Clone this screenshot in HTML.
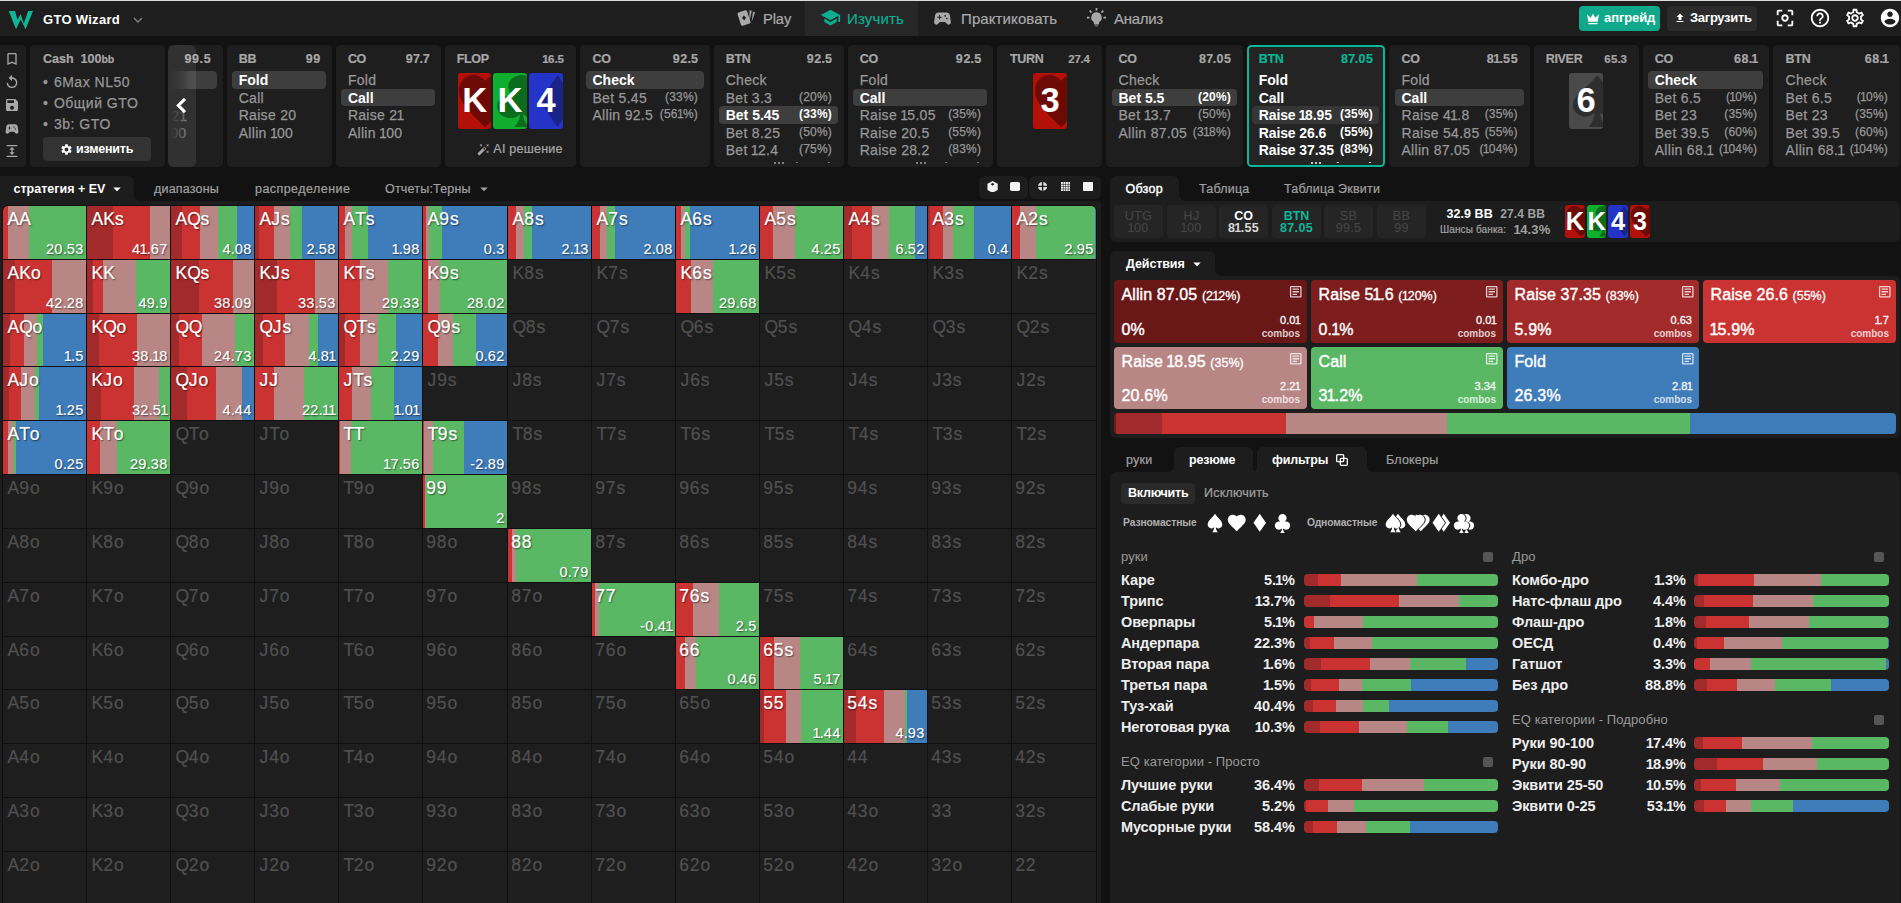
<!DOCTYPE html>
<html lang="ru"><head><meta charset="utf-8"><title>GTO Wizard</title>
<style>
*{box-sizing:border-box;margin:0;padding:0}
html,body{width:1901px;height:903px;overflow:hidden;background:#121212;font-family:"Liberation Sans",sans-serif;color:#fff}
.a{position:absolute}
.o{font-style:normal;margin:0 -.07em}
.sc .hr .o{margin:0 -.08em}
.sc .hr .v{font-style:normal;margin:0 -.04em}
.t{white-space:nowrap}
#root{position:relative;width:1901px;height:903px;overflow:hidden}
.cell{position:absolute;width:83px;height:53px;overflow:hidden;background:#1e1e1e}
.cell>i{position:absolute;top:0;bottom:0}
.cell b{position:absolute;left:4.5px;top:2px;font-weight:400;font-size:17.5px;line-height:22px;color:#505050;letter-spacing:.1px;-webkit-text-stroke:.2px currentColor}
.cell s{text-decoration:none}
.cell .w{letter-spacing:.9px}
.cell .z{margin-left:-1.3px}
.cell .x{letter-spacing:.8px}
.cell .y{letter-spacing:-.35px}
.cell.on b{color:#fff;text-shadow:1px 1px 1.5px rgba(0,0,0,.55)}
.cell u{position:absolute;right:2.6px;bottom:1px;text-decoration:none;font-size:14.5px;line-height:18px;color:#fff;text-shadow:1px 1px 1.5px rgba(0,0,0,.55);letter-spacing:.2px;-webkit-text-stroke:.12px currentColor}
.sc{position:absolute;top:45px;height:122px;background:#1e1e1e;border-radius:4.5px;overflow:hidden}
.sc .hl{position:absolute;left:11.7px;top:7px;font-weight:700;font-size:12.5px;line-height:14px;color:#a6a6a6;letter-spacing:-.3px}
.sc .hr{position:absolute;right:11.4px;top:7px;font-weight:700;font-size:12.5px;line-height:14px;color:#a6a6a6;letter-spacing:.65px}
.sc .r{position:absolute;left:5px;right:6px;height:17.6px;border-radius:4px;font-size:14px;line-height:18px;color:#979797;white-space:nowrap;letter-spacing:.3px;-webkit-text-stroke:.25px currentColor}
.sc .r>span{position:absolute;left:6.7px;top:0}
.sc .r em{position:absolute;right:6px;top:-1px;font-style:normal;font-size:12px;letter-spacing:.2px}
.sc .r.on{background:#3e3e3e;color:#fff;font-weight:700;letter-spacing:0;-webkit-text-stroke:0}
.sc .hl,.sc .hr{-webkit-text-stroke:.2px currentColor}
.sc.act{border:2px solid #06b796;background:#242424;border-radius:4.5px}
.sc.act .hl,.sc.act .hr{color:#08b595}
.sc.act .r{color:#fff;font-weight:700;letter-spacing:-.1px;-webkit-text-stroke:0}
.sc.act .r.on{background:#363636}
.pc{position:absolute;border-radius:4px;overflow:hidden}
.pc span{position:absolute;left:0;right:0;text-align:center;color:#fff;font-weight:700}
.ab{position:absolute;width:192.8px;border-radius:4px;overflow:hidden}
.ab .n{position:absolute;left:7.5px;top:6px;font-size:16px;line-height:18px;white-space:nowrap;letter-spacing:.1px;-webkit-text-stroke:.4px currentColor}
.ab .n small{font-size:12.5px;-webkit-text-stroke:.3px currentColor;letter-spacing:0}
.ab .f{position:absolute;left:7.5px;bottom:4px;font-size:16px;line-height:18px;letter-spacing:.2px;-webkit-text-stroke:.4px currentColor}
.ab .c{position:absolute;right:7px;bottom:3px;font-size:11px;line-height:12.5px;text-align:right;color:#f4f4f4;-webkit-text-stroke:.35px currentColor}
.ab .c s{text-decoration:none;display:block;font-weight:700;color:rgba(255,255,255,.78);font-size:10px;-webkit-text-stroke:0;line-height:12px;margin-top:1.2px}
.bar{position:absolute;height:12px;border-radius:4px;overflow:hidden;width:194px}
.bar i{position:absolute;top:0;bottom:0}
.hn{position:absolute;font-size:14.5px;line-height:18px;font-weight:700;color:#eee;white-space:nowrap;letter-spacing:-.1px}
.hp{position:absolute;font-size:14.5px;line-height:18px;font-weight:700;color:#eee;white-space:nowrap;text-align:right}
.hh{position:absolute;font-size:13px;line-height:16px;color:#9a9a9a;white-space:nowrap;letter-spacing:.1px}
.pos{position:absolute;top:205px;width:49px;height:33px;border-radius:4px;background:#252525;text-align:center;font-weight:700;font-size:12.5px;line-height:12px;color:#3c3c3c;padding-top:5px}
</style></head><body><div id="root">
<div class="a" style="left:0px;top:0px;width:1901px;height:36px;background:#1e1e1e;border-radius:0px;"></div><div class="a" style="left:0px;top:0px;width:1901px;height:1px;background:#dcdcdc;border-radius:0px;"></div><svg class="a" style="left:0;top:0" width="40" height="36" viewBox="0 0 40 36"><path fill="#0fb597" d="M8.800 10.900h6.200l2.400 8.800 3.200-5.600 3.200 9.400 4.400-12.600H33L25.600 29.200 20.600 19.600 16 29.200z"/></svg><div class="a t" style="left:43px;top:10px;font-size:13px;line-height:20px;color:#fff;font-weight:700;letter-spacing:.3px">GTO Wizard</div><svg class="a" style="left:129px;top:10.5px;" width="18" height="18" viewBox="0 0 24 24"><path fill="#7c7c7c" d="M16.59 8.59L12 13.17 7.41 8.59 6 10l6 6 6-6z"/></svg><div class="a" style="left:805px;top:1px;width:113px;height:35px;background:#272727;border-radius:0px;"></div><svg class="a" style="left:736.500px;top:7px" width="22" height="20" viewBox="0 0 22 20"><g fill="#a8a8a8"><rect x="2" y="4" width="10" height="14" rx="1.500" transform="rotate(-18 7 11)"/><path d="M12.500 3.200l2.200.5-2.400 11.500zM16 4.600l2.100.9-3.500 9.500z"/></g><path fill="#1e1e1e" d="M6.800 8.300l2.200 2.300-1.700 2.800-2.200-2.300z"/></svg><div class="a t" style="left:763px;top:9px;font-size:14.7px;line-height:20px;color:#a8a8a8;font-weight:400;letter-spacing:-.1px;-webkit-text-stroke:.22px currentColor">Play</div><svg class="a" style="left:819.5px;top:7px;" width="21" height="21" viewBox="0 0 24 24"><path fill="#0cae90" d="M5 13.18v4L12 21l7-3.82v-4L12 17l-7-3.82zM12 3L1 9l11 6 9-4.91V17h2V9L12 3z"/></svg><div class="a t" style="left:847px;top:9px;font-size:15px;line-height:20px;color:#0cae90;font-weight:400;letter-spacing:.15px;-webkit-text-stroke:.22px currentColor">Изучить</div><svg class="a" style="left:932px;top:8px;" width="21" height="21" viewBox="0 0 24 24"><path fill="#a8a8a8" d="M21.58 16.09l-1.09-7.66C20.21 6.46 18.52 5 16.53 5H7.47C5.48 5 3.79 6.46 3.51 8.43l-1.09 7.66C2.2 17.63 3.39 19 4.94 19c.68 0 1.32-.27 1.8-.75L9 16h6l2.25 2.25c.48.48 1.13.75 1.8.75 1.56 0 2.75-1.37 2.53-2.91zM11 11H9v2H8v-2H6v-1h2V8h1v2h2v1zm4-1c-.55 0-1-.45-1-1s.45-1 1-1 1 .45 1 1-.45 1-1 1zm2 3c-.55 0-1-.45-1-1s.45-1 1-1 1 .45 1 1-.45 1-1 1z"/></svg><div class="a t" style="left:961px;top:9px;font-size:15px;line-height:20px;color:#a8a8a8;font-weight:400;letter-spacing:.1px;-webkit-text-stroke:.22px currentColor">Практиковать</div><svg class="a" style="left:1086px;top:7px;" width="21" height="21" viewBox="0 0 24 24"><path fill="#a8a8a8" d="M12 6a6 6 0 0 0-3 11.2V19a1 1 0 0 0 1 1h4a1 1 0 0 0 1-1v-1.8A6 6 0 0 0 12 6zM10 21h4a1 1 0 0 1-1 1h-2a1 1 0 0 1-1-1zM11 1h2v3h-2zM1 11h3v2H1zM20 11h3v2h-3zM3.5 4.9l1.4-1.4 2.1 2.1-1.4 1.4zM17 5.6l2.1-2.1 1.4 1.4-2.1 2.1z"/></svg><div class="a t" style="left:1114px;top:9px;font-size:15px;line-height:20px;color:#a8a8a8;font-weight:400;letter-spacing:-.3px;-webkit-text-stroke:.22px currentColor">Анализ</div><div class="a" style="left:1579px;top:6px;width:81px;height:25px;background:#0fa88b;border-radius:4px;"></div><svg class="a" style="left:1584.5px;top:10.5px;" width="16" height="16" viewBox="0 0 24 24"><path fill="#fff" d="M5 16L3 5l5.5 5L12 4l3.5 6L21 5l-2 11H5zm14 3c0 .6-.4 1-1 1H6c-.6 0-1-.4-1-1v-1h14v1z"/></svg><div class="a t" style="left:1604px;top:9px;font-size:13px;line-height:18px;color:#fff;font-weight:700;letter-spacing:-.1px">апгрейд</div><div class="a" style="left:1667px;top:6px;width:90px;height:25px;background:#2b2b2b;border-radius:4px;"></div><svg class="a" style="left:1674px;top:12px;" width="12" height="12" viewBox="0 0 24 24"><path fill="#fff" d="M9 16h6v-6h4l-7-7-7 7h4zm-4 2h14v2H5z"/></svg><div class="a t" style="left:1690px;top:9px;font-size:13px;line-height:18px;color:#fff;font-weight:700;letter-spacing:-.3px">Загрузить</div><svg class="a" style="left:1774px;top:7px;" width="22" height="22" viewBox="0 0 24 24"><path fill="#fff" d="M5 15H3v4c0 1.1.9 2 2 2h4v-2H5v-4zM5 5h4V3H5c-1.1 0-2 .9-2 2v4h2V5zm14-2h-4v2h4v4h2V5c0-1.1-.9-2-2-2zm0 16h-4v2h4c1.1 0 2-.9 2-2v-4h-2v4zM12 8c-2.21 0-4 1.79-4 4s1.79 4 4 4 4-1.79 4-4-1.79-4-4-4zm0 6c-1.1 0-2-.9-2-2s.9-2 2-2 2 .9 2 2-.9 2-2 2z"/></svg><svg class="a" style="left:1809px;top:7px;" width="22" height="22" viewBox="0 0 24 24"><path fill="#fff" d="M11 18h2v-2h-2v2zm1-16C6.48 2 2 6.48 2 12s4.48 10 10 10 10-4.48 10-10S17.52 2 12 2zm0 18c-4.41 0-8-3.59-8-8s3.59-8 8-8 8 3.59 8 8-3.59 8-8 8zm0-14c-2.21 0-4 1.79-4 4h2c0-1.1.9-2 2-2s2 .9 2 2c0 2-3 1.75-3 5h2c0-2.25 3-2.5 3-5 0-2.21-1.79-4-4-4z"/></svg><svg class="a" style="left:1844px;top:7px;" width="22" height="22" viewBox="0 0 24 24"><path fill="#fff" d="M19.43 12.98c.04-.32.07-.64.07-.98 0-.34-.03-.66-.07-.98l2.11-1.65c.19-.15.24-.42.12-.64l-2-3.46c-.09-.16-.26-.25-.44-.25-.06 0-.12.01-.17.03l-2.49 1c-.52-.4-1.08-.73-1.69-.98l-.38-2.65C14.46 2.18 14.25 2 14 2h-4c-.25 0-.46.18-.49.42l-.38 2.65c-.61.25-1.17.59-1.69.98l-2.49-1c-.06-.02-.12-.03-.18-.03-.17 0-.34.09-.43.25l-2 3.46c-.13.22-.07.49.12.64l2.11 1.65c-.04.32-.07.65-.07.98 0 .33.03.66.07.98l-2.11 1.65c-.19.15-.24.42-.12.64l2 3.46c.09.16.26.25.44.25.06 0 .12-.01.17-.03l2.49-1c.52.4 1.08.73 1.69.98l.38 2.65c.03.24.24.42.49.42h4c.25 0 .46-.18.49-.42l.38-2.65c.61-.25 1.17-.59 1.69-.98l2.49 1c.06.02.12.03.18.03.17 0 .34-.09.43-.25l2-3.46c.12-.22.07-.49-.12-.64l-2.11-1.65zm-1.98-1.71c.04.31.05.52.05.73 0 .21-.02.43-.05.73l-.14 1.13.89.7 1.08.84-.7 1.21-1.27-.51-1.04-.42-.9.68c-.43.32-.84.56-1.25.73l-1.06.43-.16 1.13-.2 1.35h-1.4l-.19-1.35-.16-1.13-1.06-.43c-.43-.18-.83-.41-1.23-.71l-.91-.7-1.06.43-1.27.51-.7-1.21 1.08-.84.89-.7-.14-1.13c-.03-.31-.05-.54-.05-.74s.02-.43.05-.73l.14-1.13-.89-.7-1.08-.84.7-1.21 1.27.51 1.04.42.9-.68c.43-.32.84-.56 1.25-.73l1.06-.43.16-1.13.2-1.35h1.39l.19 1.35.16 1.13 1.06.43c.43.18.83.41 1.23.71l.91.7 1.06-.43 1.27-.51.7 1.21-1.07.85-.89.7.14 1.13zM12 8c-2.21 0-4 1.79-4 4s1.79 4 4 4 4-1.79 4-4-1.79-4-4-4zm0 6c-1.1 0-2-.9-2-2s.9-2 2-2 2 .9 2 2-.9 2-2 2z"/></svg><svg class="a" style="left:1879px;top:7px;" width="22" height="22" viewBox="0 0 24 24"><path fill="#fff" d="M12 2C6.48 2 2 6.48 2 12s4.48 10 10 10 10-4.48 10-10S17.52 2 12 2zm0 3c1.66 0 3 1.34 3 3s-1.34 3-3 3-3-1.34-3-3 1.34-3 3-3zm0 14.2c-2.5 0-4.71-1.28-6-3.22.03-1.99 4-3.08 6-3.08 1.99 0 5.97 1.09 6 3.08-1.29 1.94-3.5 3.22-6 3.22z"/></svg><div class="a" style="left:0px;top:45px;width:26px;height:122px;background:#1e1e1e;border-radius:0px;border-radius:0 4.500px 4.500px 0"></div><svg class="a" style="left:4px;top:51px;" width="16" height="16" viewBox="0 0 24 24"><path fill="#a8a8a8" d="M17 3H7c-1.1 0-2 .9-2 2v16l7-3 7 3V5c0-1.1-.9-2-2-2zm0 15l-5-2.18L7 18V5h10v13z"/></svg><svg class="a" style="left:4px;top:74px;" width="16" height="16" viewBox="0 0 24 24"><path fill="#a8a8a8" d="M12 5V1L7 6l5 5V7c3.31 0 6 2.69 6 6s-2.69 6-6 6-6-2.69-6-6H4c0 4.42 3.58 8 8 8s8-3.58 8-8-3.58-8-8-8z"/></svg><svg class="a" style="left:4px;top:97px;" width="16" height="16" viewBox="0 0 24 24"><path fill="#a8a8a8" d="M17 3H5c-1.11 0-2 .9-2 2v14c0 1.1.89 2 2 2h14c1.1 0 2-.9 2-2V7l-4-4zm-5 16c-1.66 0-3-1.34-3-3s1.34-3 3-3 3 1.34 3 3-1.34 3-3 3zm3-10H5V5h10v4z"/></svg><svg class="a" style="left:4px;top:120.5px;" width="16" height="16" viewBox="0 0 24 24"><path fill="#a8a8a8" d="M21.58 16.09l-1.09-7.66C20.21 6.46 18.52 5 16.53 5H7.47C5.48 5 3.79 6.46 3.51 8.43l-1.09 7.66C2.2 17.63 3.39 19 4.94 19c.68 0 1.32-.27 1.8-.75L9 16h6l2.25 2.25c.48.48 1.13.75 1.8.75 1.56 0 2.75-1.37 2.53-2.91zM11 11H9v2H8v-2H6v-1h2V8h1v2h2v1zm4-1c-.55 0-1-.45-1-1s.45-1 1-1 1 .45 1 1-.45 1-1 1zm2 3c-.55 0-1-.45-1-1s.45-1 1-1 1 .45 1 1-.45 1-1 1z"/></svg><svg class="a" style="left:4px;top:143px;" width="16" height="16" viewBox="0 0 24 24"><path fill="#a8a8a8" d="M4 3h16v2H4zM4 19h16v2H4zM12 6l-4 4h3v4H8l4 4 4-4h-3v-4h3z"/></svg><div class="sc" style="left:30px;width:135px"><div class="hl" style="left:13px;letter-spacing:0">Cash&nbsp; 100<span style="font-size:10.5px">bb</span></div><div class="a t" style="left:13px;top:28px;font-size:14px;line-height:18px;color:#979797;letter-spacing:.5px;-webkit-text-stroke:.25px currentColor"><span style="font-size:14px;margin-right:5.500px">&bull;</span>6Max NL50</div><div class="a t" style="left:13px;top:49px;font-size:14px;line-height:18px;color:#979797;letter-spacing:.5px;-webkit-text-stroke:.25px currentColor"><span style="font-size:14px;margin-right:5.500px">&bull;</span>Общий GTO</div><div class="a t" style="left:13px;top:70px;font-size:14px;line-height:18px;color:#979797;letter-spacing:.5px;-webkit-text-stroke:.25px currentColor"><span style="font-size:14px;margin-right:5.500px">&bull;</span>3b: GTO</div><div class="a" style="left:13px;top:92px;width:108px;height:24px;background:#333;border-radius:4px"></div><svg class="a" style="left:30px;top:97.500px" width="13" height="13" viewBox="0 0 24 24"><path fill="#fff" d="M19.14 12.94c.04-.3.06-.61.06-.94 0-.32-.02-.64-.07-.94l2.03-1.58c.18-.14.23-.41.12-.61l-1.92-3.32c-.12-.22-.37-.29-.59-.22l-2.39.96c-.5-.38-1.03-.7-1.62-.94l-.36-2.54c-.04-.24-.24-.41-.48-.41h-3.84c-.24 0-.43.17-.47.41l-.36 2.54c-.59.24-1.13.57-1.62.94l-2.39-.96c-.22-.08-.47 0-.59.22L2.74 8.87c-.12.21-.08.47.12.61l2.03 1.58c-.05.3-.09.63-.09.94s.02.64.07.94l-2.03 1.58c-.18.14-.23.41-.12.61l1.92 3.32c.12.22.37.29.59.22l2.39-.96c.5.38 1.03.7 1.62.94l.36 2.54c.05.24.24.41.48.41h3.84c.24 0 .44-.17.47-.41l.36-2.54c.59-.24 1.13-.56 1.62-.94l2.39.96c.22.08.47 0 .59-.22l1.92-3.32c.12-.22.07-.47-.12-.61l-2.01-1.58zM12 15.6c-1.98 0-3.6-1.62-3.6-3.6s1.62-3.6 3.6-3.6 3.6 1.62 3.6 3.6-1.62 3.6-3.6 3.6z"/></svg><div class="a t" style="left:46px;top:95px;font-size:12.5px;line-height:18px;font-weight:700;color:#fff;letter-spacing:-.2px">изменить</div></div><div class="sc" style="left:168px;width:55px"><div class="hr" style="right:11.700px">99.5</div><div class="r on" style="top:26px;left:-6px;right:6px"></div><div class="r" style="top:61.800px;left:-3.500px"><span>21</span></div><div class="r" style="top:79.300px;left:-4.500px"><span>00</span></div><div class="a" style="left:0;top:20px;width:26px;height:102px;background:linear-gradient(90deg,#1e1e1e 3px,rgba(30,30,30,.55) 14px,rgba(30,30,30,0) 24px)"></div><div class="a" style="left:0;top:0;width:27.700px;height:122px;background:rgba(255,255,255,.085);border-radius:6px"></div><svg class="a" style="left:-1px;top:46px" width="29" height="29" viewBox="0 0 24 24"><path fill="#fff" stroke="#fff" stroke-width=".7" d="M15.41 7.41L14 6l-6 6 6 6 1.41-1.41L10.83 12z"/></svg></div><div class="sc" style="left:227px;width:105.3px"><div class="hl" style="left:11.7px;top:7px">BB</div><div class="hr" style="right:11.4px;top:7px;">99</div><div class="a" style="left:0;right:0;top:0;height:117.6px;overflow:hidden"><div class="r on" style="top:26.1px;left:5px;right:6px"><span>Fold</span></div><div class="r" style="top:43.6px;left:5px;right:6px"><span>Call</span></div><div class="r" style="top:61.1px;left:5px;right:6px"><span>Raise 20</span></div><div class="r" style="top:78.6px;left:5px;right:6px"><span>Allin <span class="o">1</span>00</span></div></div></div><div class="sc" style="left:336.2px;width:105px"><div class="hl" style="left:11.7px;top:7px">CO</div><div class="hr" style="right:11.4px;top:7px;">9<i class="v">7</i><i class="v">.</i><i class="v">7</i></div><div class="a" style="left:0;right:0;top:0;height:117.6px;overflow:hidden"><div class="r" style="top:26.1px;left:5px;right:6px"><span>Fold</span></div><div class="r on" style="top:43.6px;left:5px;right:6px"><span>Call</span></div><div class="r" style="top:61.1px;left:5px;right:6px"><span>Raise 2<span class="o">1</span></span></div><div class="r" style="top:78.6px;left:5px;right:6px"><span>Allin <span class="o">1</span>00</span></div></div></div><div class="sc" style="left:445px;width:131px"><div class="hl" style="left:11.7px;top:7px">FLOP</div><div class="hr" style="right:11.6px;top:7px;font-size:11.5px;letter-spacing:.4px;"><span class="o">1</span>6<i class="v">.</i>5</div><div class="a" style="left:0;right:0;top:0;height:117.6px;overflow:hidden"></div></div><div class="pc" style="left:458px;top:72.8px;width:33.2px;height:56.2px;background:#b21008;border-radius:3px"><svg class="a" style="left:1.4px;top:2.3px" width="52.2" height="52.2" viewBox="2 3 20 18.35" preserveAspectRatio="none"><path fill="#6d0a04" d="M12 21.35l-1.450-1.320C5.400 15.360 2 12.270 2 8.500 2 5.410 4.420 3 7.500 3c1.740 0 3.410.810 4.500 2.080C13.090 3.810 14.760 3 16.500 3 19.580 3 22 5.410 22 8.500c0 3.770-3.400 6.860-8.550 11.530L12 21.350z"/></svg><span style="top:-0.5px;font-size:34.5px;line-height:56.2px">K</span></div><div class="pc" style="left:493px;top:72.8px;width:34px;height:56.2px;background:#10ae2e;border-radius:3px"><svg class="a" style="left:3.6px;top:2.3px" width="49.2" height="52.2" viewBox="4 2 16 20" preserveAspectRatio="none"><path fill="#0a6c1c" d="M12 2c2.300 0 4.300 2 4.300 4.200-.020 1.800-.700 2.700-1.900 3.800 2.400-.700 5.600.700 5.600 4 0 2.900-2.200 4.500-4.500 4.500-1.100 0-2-.400-3-1.500 0 0-.200 2.500 2 5H9.500c2.200-2.500 2-5 2-5-1 1.100-1.900 1.500-3 1.500C6.200 18.500 4 16.900 4 14c0-3.300 3.200-4.700 5.600-4-1.200-1.100-1.900-2-1.900-3.800C7.700 4 9.700 2 12 2z"/></svg><span style="top:-0.5px;font-size:34.5px;line-height:56.2px">K</span></div><div class="pc" style="left:529px;top:72.8px;width:34px;height:56.2px;background:#2434c8;border-radius:3px"><svg class="a" style="left:10.6px;top:2.3px" width="35.1" height="52.2" viewBox="5 2 14 20" preserveAspectRatio="none"><path fill="#182489" d="M19 12l-7 10-7-10 7-10z"/></svg><span style="top:-0.5px;font-size:34.5px;line-height:56.2px">4</span></div><svg class="a" style="left:477.3px;top:142.7px;" width="13" height="13" viewBox="0 0 24 24"><path fill="#a8a8a8" d="M7.500 5.600L10 7 8.600 4.500 10 2 7.500 3.400 5 2l1.400 2.500L5 7zm12 9.800L17 14l1.400 2.500L17 19l2.500-1.400L22 19l-1.400-2.500L22 14zM22 2l-2.500 1.400L17 2l1.400 2.500L17 7l2.500-1.400L22 7l-1.400-2.500zm-7.630 5.290c-.390-.390-1.020-.390-1.410 0L1.290 18.960c-.390.390-.390 1.020 0 1.410l2.340 2.340c.390.390 1.020.390 1.410 0L16.700 11.050c.390-.390.390-1.020 0-1.410l-2.330-2.350zm-1.030 5.490l-2.120-2.120 2.440-2.440 2.120 2.120-2.440 2.440z"/></svg><div class="a t" style="right:1338.2px;top:140.7px;font-size:12.5px;line-height:16px;color:#a8a8a8;font-weight:400;letter-spacing:.25px;-webkit-text-stroke:.22px currentColor">AI решение</div><div class="sc" style="left:580px;width:130px"><div class="hl" style="left:12.5px;top:7px">CO</div><div class="hr" style="right:11.4px;top:7px;">92<i class="v">.</i>5</div><div class="a" style="left:0;right:0;top:0;height:117.6px;overflow:hidden"><div class="r on" style="top:26.1px;left:5.8px;right:6px"><span>Check</span></div><div class="r" style="top:43.6px;left:5.8px;right:6px"><span>Bet 5.45</span><em>(33%)</em></div><div class="r" style="top:61.1px;left:5.8px;right:6px"><span>Allin 92.5</span><em>(56<span class="o">1</span>%)</em></div></div></div><div class="sc" style="left:714px;width:130px"><div class="hl" style="left:11.7px;top:7px">BTN</div><div class="hr" style="right:11.4px;top:7px;">92<i class="v">.</i>5</div><div class="a" style="left:0;right:0;top:0;height:117.6px;overflow:hidden"><div class="r" style="top:26.1px;left:5px;right:6px"><span>Check</span></div><div class="r" style="top:43.6px;left:5px;right:6px"><span>Bet 3.3</span><em>(20%)</em></div><div class="r on" style="top:61.1px;left:5px;right:6px"><span>Bet 5.45</span><em>(33%)</em></div><div class="r" style="top:78.6px;left:5px;right:6px"><span>Bet 8.25</span><em>(50%)</em></div><div class="r" style="top:96.1px;left:5px;right:6px"><span>Bet <span class="o">1</span>2.4</span><em>(75%)</em></div><div class="r" style="top:113.6px;left:5px;right:6px"><span></span><em>(<span style="visibility:hidden"><span class="o">1</span>00%</span>)</em></div></div><div class="a" style="left:59.9px;top:117px;width:2.200px;height:2.200px;border-radius:50%;background:#a0a0a0"></div><div class="a" style="left:63.9px;top:117px;width:2.200px;height:2.200px;border-radius:50%;background:#a0a0a0"></div><div class="a" style="left:67.9px;top:117px;width:2.200px;height:2.200px;border-radius:50%;background:#a0a0a0"></div></div><div class="sc" style="left:848px;width:145.2px"><div class="hl" style="left:11.7px;top:7px">CO</div><div class="hr" style="right:11.4px;top:7px;">92<i class="v">.</i>5</div><div class="a" style="left:0;right:0;top:0;height:117.6px;overflow:hidden"><div class="r" style="top:26.1px;left:5px;right:6px"><span>Fold</span></div><div class="r on" style="top:43.6px;left:5px;right:6px"><span>Call</span></div><div class="r" style="top:61.1px;left:5px;right:6px"><span>Raise <span class="o">1</span>5.05</span><em>(35%)</em></div><div class="r" style="top:78.6px;left:5px;right:6px"><span>Raise 20.5</span><em>(55%)</em></div><div class="r" style="top:96.1px;left:5px;right:6px"><span>Raise 28.2</span><em>(83%)</em></div><div class="r" style="top:113.6px;left:5px;right:6px"><span></span><em>(<span style="visibility:hidden"><span class="o">1</span>00%</span>)</em></div></div><div class="a" style="left:67.5px;top:117px;width:2.200px;height:2.200px;border-radius:50%;background:#a0a0a0"></div><div class="a" style="left:71.5px;top:117px;width:2.200px;height:2.200px;border-radius:50%;background:#a0a0a0"></div><div class="a" style="left:75.5px;top:117px;width:2.200px;height:2.200px;border-radius:50%;background:#a0a0a0"></div></div><div class="sc" style="left:997px;width:105px"><div class="hl" style="left:13.0px;top:7px">TURN</div><div class="hr" style="right:11.6px;top:7px;font-size:11.5px;letter-spacing:.4px;">2<i class="v">7</i><i class="v">.</i>4</div><div class="a" style="left:0;right:0;top:0;height:117.6px;overflow:hidden"></div></div><div class="pc" style="left:1033px;top:72.8px;width:34px;height:56.2px;background:#b21008;border-radius:3px"><svg class="a" style="left:2.1px;top:2.3px" width="52.2" height="52.2" viewBox="2 3 20 18.35" preserveAspectRatio="none"><path fill="#6d0a04" d="M12 21.35l-1.450-1.320C5.400 15.360 2 12.270 2 8.500 2 5.410 4.420 3 7.500 3c1.740 0 3.410.810 4.500 2.080C13.090 3.810 14.760 3 16.500 3 19.580 3 22 5.410 22 8.500c0 3.770-3.400 6.860-8.550 11.530L12 21.350z"/></svg><span style="top:-0.5px;font-size:34.5px;line-height:56.2px">3</span></div><div class="sc" style="left:1106px;width:137px"><div class="hl" style="left:12.5px;top:7px">CO</div><div class="hr" style="right:11.4px;top:7px;">8<i class="v">7</i><i class="v">.</i>05</div><div class="a" style="left:0;right:0;top:0;height:117.6px;overflow:hidden"><div class="r" style="top:26.1px;left:5.8px;right:6px"><span>Check</span></div><div class="r on" style="top:43.6px;left:5.8px;right:6px"><span>Bet 5.5</span><em>(20%)</em></div><div class="r" style="top:61.1px;left:5.8px;right:6px"><span>Bet <span class="o">1</span>3.7</span><em>(50%)</em></div><div class="r" style="top:78.6px;left:5.8px;right:6px"><span>Allin 87.05</span><em>(3<span class="o">1</span>8%)</em></div></div></div><div class="sc act" style="left:1247px;width:138px"><div class="hl" style="left:9.7px;top:5px">BTN</div><div class="hr" style="right:9.4px;top:5px;">8<i class="v">7</i><i class="v">.</i>05</div><div class="a" style="left:0;right:0;top:0;height:115.6px;overflow:hidden"><div class="r" style="top:24.1px;left:3px;right:4px"><span>Fold</span></div><div class="r" style="top:41.6px;left:3px;right:4px"><span>Call</span></div><div class="r on" style="top:59.1px;left:3px;right:4px"><span>Raise <span class="o">1</span>8.95</span><em>(35%)</em></div><div class="r" style="top:76.6px;left:3px;right:4px"><span>Raise 26.6</span><em>(55%)</em></div><div class="r" style="top:94.1px;left:3px;right:4px"><span>Raise 37.35</span><em>(83%)</em></div><div class="r" style="top:111.6px;left:3px;right:4px"><span></span><em>(<span style="visibility:hidden"><span class="o">1</span>00%</span>)</em></div></div><div class="a" style="left:61.9px;top:115px;width:2.200px;height:2.200px;border-radius:50%;background:#fff"></div><div class="a" style="left:65.9px;top:115px;width:2.200px;height:2.200px;border-radius:50%;background:#fff"></div><div class="a" style="left:69.9px;top:115px;width:2.200px;height:2.200px;border-radius:50%;background:#fff"></div></div><div class="sc" style="left:1389px;width:140.7px"><div class="hl" style="left:12.5px;top:7px">CO</div><div class="hr" style="right:11.4px;top:7px;">8<span class="o">1</span><i class="v">.</i>55</div><div class="a" style="left:0;right:0;top:0;height:117.6px;overflow:hidden"><div class="r" style="top:26.1px;left:5.8px;right:6px"><span>Fold</span></div><div class="r on" style="top:43.6px;left:5.8px;right:6px"><span>Call</span></div><div class="r" style="top:61.1px;left:5.8px;right:6px"><span>Raise 4<span class="o">1</span>.8</span><em>(35%)</em></div><div class="r" style="top:78.6px;left:5.8px;right:6px"><span>Raise 54.85</span><em>(55%)</em></div><div class="r" style="top:96.1px;left:5.8px;right:6px"><span>Allin 87.05</span><em>(<span class="o">1</span>04%)</em></div></div></div><div class="sc" style="left:1534px;width:105px"><div class="hl" style="left:11.7px;top:7px">RIVER</div><div class="hr" style="right:11.6px;top:7px;font-size:11.5px;letter-spacing:.4px;">65<i class="v">.</i>3</div><div class="a" style="left:0;right:0;top:0;height:117.6px;overflow:hidden"></div></div><div class="pc" style="left:1569px;top:72.8px;width:34px;height:56.2px;background:#4a4a4a;border-radius:3px"><svg class="a" style="left:3.9px;top:2.3px" width="48.7" height="52.2" viewBox="4 2 16 20" preserveAspectRatio="none"><path fill="#2e2e2e" d="M12 2C9 7 4 9 4 14c0 2 2 4 4 4 1 0 2-.5 3-1.500 0 0 .320 2.500-2 5.500h6c-2.320-3-2-5.500-2-5.500 1 1 2 1.500 3 1.500 2 0 4-2 4-4 0-5-5-7-8-12z"/></svg><span style="top:-0.5px;font-size:34.5px;line-height:56.2px">6</span></div><div class="sc" style="left:1643px;width:126.3px"><div class="hl" style="left:11.7px;top:7px">CO</div><div class="hr" style="right:11.4px;top:7px;">68<i class="v">.</i><span class="o">1</span></div><div class="a" style="left:0;right:0;top:0;height:117.6px;overflow:hidden"><div class="r on" style="top:26.1px;left:5px;right:6px"><span>Check</span></div><div class="r" style="top:43.6px;left:5px;right:6px"><span>Bet 6.5</span><em>(<span class="o">1</span>0%)</em></div><div class="r" style="top:61.1px;left:5px;right:6px"><span>Bet 23</span><em>(35%)</em></div><div class="r" style="top:78.6px;left:5px;right:6px"><span>Bet 39.5</span><em>(60%)</em></div><div class="r" style="top:96.1px;left:5px;right:6px"><span>Allin 68.<span class="o">1</span></span><em>(<span class="o">1</span>04%)</em></div></div></div><div class="sc" style="left:1773px;width:127px"><div class="hl" style="left:12.6px;top:7px">BTN</div><div class="hr" style="right:11.4px;top:7px;">68<i class="v">.</i><span class="o">1</span></div><div class="a" style="left:0;right:0;top:0;height:117.6px;overflow:hidden"><div class="r" style="top:26.1px;left:5.9px;right:6px"><span>Check</span></div><div class="r" style="top:43.6px;left:5.9px;right:6px"><span>Bet 6.5</span><em>(<span class="o">1</span>0%)</em></div><div class="r" style="top:61.1px;left:5.9px;right:6px"><span>Bet 23</span><em>(35%)</em></div><div class="r" style="top:78.6px;left:5.9px;right:6px"><span>Bet 39.5</span><em>(60%)</em></div><div class="r" style="top:96.1px;left:5.9px;right:6px"><span>Allin 68.<span class="o">1</span></span><em>(<span class="o">1</span>04%)</em></div></div></div><div class="a" style="left:0px;top:176px;width:134px;height:26px;background:#1d1d1d;border-radius:0px;border-radius:0 6px 0 0"></div><div class="a" style="left:0px;top:201px;width:1101.3px;height:703px;background:#1d1d1d;border-radius:0px;border-radius:0 4px 0 0"></div><div class="a" style="left:134px;top:196px;width:5px;height:5px;background:radial-gradient(circle at 100% 0,rgba(28,28,28,0) 4.5px,#1d1d1d 5px)"></div><div class="a t" style="left:13.5px;top:180px;font-size:12.5px;line-height:18px;color:#fff;font-weight:700;letter-spacing:0">стратегия + EV</div><svg class="a" style="left:108px;top:180px;" width="18" height="18" viewBox="0 0 24 24"><path fill="#fff" d="M7 10l5 5 5-5z"/></svg><div class="a t" style="left:154px;top:180px;font-size:12.5px;line-height:18px;color:#a0a0a0;font-weight:400;letter-spacing:.2px;-webkit-text-stroke:.22px currentColor">диапазоны</div><div class="a t" style="left:255px;top:180px;font-size:12.5px;line-height:18px;color:#a0a0a0;font-weight:400;letter-spacing:.45px;-webkit-text-stroke:.22px currentColor">распределение</div><div class="a t" style="left:385px;top:180px;font-size:12.5px;line-height:18px;color:#a0a0a0;font-weight:400;letter-spacing:.2px;-webkit-text-stroke:.22px currentColor">Отчеты:Терны</div><svg class="a" style="left:475px;top:180px;" width="18" height="18" viewBox="0 0 24 24"><path fill="#a0a0a0" d="M7 10l5 5 5-5z"/></svg><div class="a" style="left:979.2px;top:176px;width:48.6px;height:23px;background:#1d1d1d;border-radius:6px;"></div><div class="a" style="left:1029.1px;top:176px;width:71.6px;height:23px;background:#1d1d1d;border-radius:6px;"></div><svg class="a" style="left:987px;top:180.500px" width="11.200" height="11.800" viewBox="0 0 24 24" preserveAspectRatio="none"><path fill="#f4f4f4" d="M12 0l11 5.800v12.400L12 24 1 18.200V5.800z"/><path fill="#1d1d1d" d="M12 3.600l4 3-4 3-4-3z"/></svg><div class="a" style="left:1010.2px;top:181.8px;width:10.2px;height:9.6px;background:#f4f4f4;border-radius:1.8px;"></div><svg class="a" style="left:1038px;top:182.200px" width="9.200" height="8.800" viewBox="0 0 10 10" preserveAspectRatio="none"><circle cx="5" cy="5" r="5" fill="#e4e4e4"/><path d="M5 0v10M0 5h10" stroke="#1d1d1d" stroke-width="1.600"/></svg><svg class="a" style="left:1060.800px;top:182.100px" width="9.300" height="9.100" viewBox="0 0 11 11" preserveAspectRatio="none"><path fill="#ececec" d="M0 0h2.300v2.300H0zM2.900 0h2.300v2.300H2.900zM5.800 0h2.300v2.300H5.800zM8.700 0H11v2.300H8.700zM0 2.900h2.300v2.300H0zM2.900 2.900h2.300v2.300H2.900zM5.800 2.900h2.300v2.300H5.800zM8.700 2.900H11v2.300H8.700zM0 5.800h2.300v2.300H0zM2.900 5.800h2.300v2.300H2.900zM5.800 5.800h2.300v2.300H5.800zM8.700 5.800H11v2.300H8.700zM0 8.700h2.300V11H0zM2.900 8.700h2.300V11H2.900zM5.800 8.700h2.300V11H5.800zM8.700 8.700H11V11H8.700z"/></svg><div class="a" style="left:1083px;top:181.8px;width:10.1px;height:9.5px;background:#f4f4f4;border-radius:0.8px;"></div><div class="a" style="left:2px;top:205px;width:1095px;height:698px;background:#101010;border-radius:0px;border-radius:6px 6px 0 0"></div><div class="cell on" style="left:3px;top:206px;width:83px;height:53px;border-radius:5px 0 0 0;"><i style="left:0.0px;width:5.3px;background:#cb3333"></i><i style="left:5.0px;width:21.1px;background:#b98686"></i><i style="left:25.7px;width:57.6px;background:#5ab865"></i><b>AA</b><u>20.53</u></div><div class="cell on" style="left:87px;top:206px;width:83px;height:53px;"><i style="left:0.0px;width:26.6px;background:#a32a2a"></i><i style="left:26.3px;width:36.8px;background:#cb3333"></i><i style="left:62.8px;width:20.5px;background:#b98686"></i><b>AKs</b><u>4<span class="o">1</span>.67</u></div><div class="cell on" style="left:171px;top:206px;width:83px;height:53px;"><i style="left:0.0px;width:11.1px;background:#a32a2a"></i><i style="left:10.8px;width:18.2px;background:#cb3333"></i><i style="left:28.7px;width:18.2px;background:#b98686"></i><i style="left:46.6px;width:19.4px;background:#5ab865"></i><i style="left:65.7px;width:17.6px;background:#3e7cba"></i><b>A<s class="y">Q</s>s</b><u>4.08</u></div><div class="cell on" style="left:255px;top:206px;width:83px;height:53px;"><i style="left:0.0px;width:4.5px;background:#a32a2a"></i><i style="left:4.2px;width:14.7px;background:#cb3333"></i><i style="left:18.6px;width:16.9px;background:#b98686"></i><i style="left:35.2px;width:12.2px;background:#5ab865"></i><i style="left:47.1px;width:36.2px;background:#3e7cba"></i><b>A<s class="w">J</s>s</b><u>2.58</u></div><div class="cell on" style="left:339px;top:206px;width:83px;height:53px;"><i style="left:0.0px;width:6.1px;background:#cb3333"></i><i style="left:5.8px;width:7.5px;background:#b98686"></i><i style="left:13.0px;width:15.9px;background:#5ab865"></i><i style="left:28.6px;width:54.7px;background:#3e7cba"></i><b>A<s class="y">T</s>s</b><u><span class="o">1</span>.98</u></div><div class="cell on" style="left:423px;top:206px;width:84px;height:53px;"><i style="left:0.0px;width:3.5px;background:#cb3333"></i><i style="left:3.2px;width:3.2px;background:#b98686"></i><i style="left:6.1px;width:12.9px;background:#5ab865"></i><i style="left:18.7px;width:65.6px;background:#3e7cba"></i><b>A<s class="w">9</s>s</b><u>0.3</u></div><div class="cell on" style="left:508px;top:206px;width:83px;height:53px;"><i style="left:0.0px;width:7.8px;background:#cb3333"></i><i style="left:7.5px;width:8.4px;background:#b98686"></i><i style="left:15.6px;width:8.6px;background:#5ab865"></i><i style="left:23.9px;width:59.4px;background:#3e7cba"></i><b>A<s class="w">8</s>s</b><u>2.<span class="o">1</span>3</u></div><div class="cell on" style="left:592px;top:206px;width:83px;height:53px;"><i style="left:0.0px;width:7.8px;background:#cb3333"></i><i style="left:7.5px;width:7.5px;background:#b98686"></i><i style="left:14.7px;width:8.9px;background:#5ab865"></i><i style="left:23.3px;width:60.0px;background:#3e7cba"></i><b>A<s class="w">7</s>s</b><u>2.08</u></div><div class="cell on" style="left:676px;top:206px;width:83px;height:53px;"><i style="left:0.0px;width:5.5px;background:#cb3333"></i><i style="left:5.2px;width:4.0px;background:#b98686"></i><i style="left:9.0px;width:5.5px;background:#5ab865"></i><i style="left:14.2px;width:69.1px;background:#3e7cba"></i><b>A<s class="w">6</s>s</b><u><span class="o">1</span>.26</u></div><div class="cell on" style="left:760px;top:206px;width:83px;height:53px;"><i style="left:0.0px;width:13.1px;background:#cb3333"></i><i style="left:12.8px;width:22.4px;background:#b98686"></i><i style="left:34.9px;width:48.4px;background:#5ab865"></i><b>A<s class="w">5</s>s</b><u>4.25</u></div><div class="cell on" style="left:844px;top:206px;width:83px;height:53px;"><i style="left:0.0px;width:7.8px;background:#a32a2a"></i><i style="left:7.5px;width:20.6px;background:#cb3333"></i><i style="left:27.8px;width:17.1px;background:#b98686"></i><i style="left:44.7px;width:26.4px;background:#5ab865"></i><i style="left:70.8px;width:12.5px;background:#3e7cba"></i><b>A<s class="w">4</s>s</b><u>6.52</u></div><div class="cell on" style="left:928px;top:206px;width:83px;height:53px;"><i style="left:0.0px;width:2.6px;background:#a32a2a"></i><i style="left:2.3px;width:12.5px;background:#cb3333"></i><i style="left:14.5px;width:10.4px;background:#b98686"></i><i style="left:24.7px;width:21.5px;background:#5ab865"></i><i style="left:45.8px;width:37.5px;background:#3e7cba"></i><b>A<s class="w">3</s>s</b><u>0.4</u></div><div class="cell on" style="left:1012px;top:206px;width:84px;height:53px;border-radius:0 5px 0 0;"><i style="left:0.0px;width:8.2px;background:#cb3333"></i><i style="left:7.9px;width:16.3px;background:#b98686"></i><i style="left:23.9px;width:59.4px;background:#5ab865"></i><i style="left:83.0px;width:1.3px;background:#3e7cba"></i><b>A<s class="w">2</s>s</b><u>2.95</u></div><div class="cell on" style="left:3px;top:260px;width:83px;height:53px;"><i style="left:0.0px;width:11.9px;background:#a32a2a"></i><i style="left:11.6px;width:37.9px;background:#cb3333"></i><i style="left:49.2px;width:34.1px;background:#b98686"></i><b>AK<s class="x">o</s></b><u>42.28</u></div><div class="cell on" style="left:87px;top:260px;width:83px;height:53px;"><i style="left:0.0px;width:6.4px;background:#a32a2a"></i><i style="left:6.1px;width:10.1px;background:#cb3333"></i><i style="left:15.9px;width:33.3px;background:#b98686"></i><i style="left:48.8px;width:34.5px;background:#5ab865"></i><b>KK</b><u>49.9</u></div><div class="cell on" style="left:171px;top:260px;width:83px;height:53px;"><i style="left:0.0px;width:28.7px;background:#a32a2a"></i><i style="left:28.4px;width:33.9px;background:#cb3333"></i><i style="left:62.0px;width:21.3px;background:#b98686"></i><b>K<s class="y">Q</s>s</b><u>38.09</u></div><div class="cell on" style="left:255px;top:260px;width:83px;height:53px;"><i style="left:0.0px;width:22.0px;background:#a32a2a"></i><i style="left:21.7px;width:38.3px;background:#cb3333"></i><i style="left:59.8px;width:23.5px;background:#b98686"></i><b>K<s class="w">J</s>s</b><u>33.53</u></div><div class="cell on" style="left:339px;top:260px;width:83px;height:53px;"><i style="left:0.0px;width:20.9px;background:#cb3333"></i><i style="left:20.6px;width:28.4px;background:#b98686"></i><i style="left:48.7px;width:34.6px;background:#5ab865"></i><b>K<s class="y">T</s>s</b><u>29.33</u></div><div class="cell on" style="left:423px;top:260px;width:84px;height:53px;"><i style="left:0.0px;width:5.6px;background:#cb3333"></i><i style="left:5.3px;width:12.1px;background:#b98686"></i><i style="left:17.1px;width:67.2px;background:#5ab865"></i><b>K<s class="w">9</s>s</b><u>28.02</u></div><div class="cell" style="left:508px;top:260px;width:83px;height:53px;"><b>K<s class="w">8</s>s</b></div><div class="cell" style="left:592px;top:260px;width:83px;height:53px;"><b>K<s class="w">7</s>s</b></div><div class="cell on" style="left:676px;top:260px;width:83px;height:53px;"><i style="left:0.0px;width:15.2px;background:#cb3333"></i><i style="left:14.9px;width:21.9px;background:#b98686"></i><i style="left:36.5px;width:46.8px;background:#5ab865"></i><b>K<s class="w">6</s>s</b><u>29.68</u></div><div class="cell" style="left:760px;top:260px;width:83px;height:53px;"><b>K<s class="w">5</s>s</b></div><div class="cell" style="left:844px;top:260px;width:83px;height:53px;"><b>K<s class="w">4</s>s</b></div><div class="cell" style="left:928px;top:260px;width:83px;height:53px;"><b>K<s class="w">3</s>s</b></div><div class="cell" style="left:1012px;top:260px;width:84px;height:53px;"><b>K<s class="w">2</s>s</b></div><div class="cell on" style="left:3px;top:314px;width:83px;height:52px;"><i style="left:0.0px;width:6.9px;background:#a32a2a"></i><i style="left:6.6px;width:14.7px;background:#cb3333"></i><i style="left:21.1px;width:13.3px;background:#b98686"></i><i style="left:34.1px;width:6.1px;background:#5ab865"></i><i style="left:39.9px;width:43.4px;background:#3e7cba"></i><b>A<s class="y">Q</s><s class="x">o</s></b><u><span class="o">1</span>.5</u></div><div class="cell on" style="left:87px;top:314px;width:83px;height:52px;"><i style="left:0.0px;width:11.9px;background:#a32a2a"></i><i style="left:11.6px;width:38.1px;background:#cb3333"></i><i style="left:49.5px;width:33.8px;background:#b98686"></i><b>K<s class="y">Q</s><s class="x">o</s></b><u>38.<span class="o">1</span>8</u></div><div class="cell on" style="left:171px;top:314px;width:83px;height:52px;"><i style="left:0.0px;width:7.8px;background:#a32a2a"></i><i style="left:7.5px;width:24.1px;background:#cb3333"></i><i style="left:31.3px;width:32.7px;background:#b98686"></i><i style="left:63.7px;width:19.6px;background:#5ab865"></i><b><s class="y">Q</s><s class="y">Q</s></b><u>24.73</u></div><div class="cell on" style="left:255px;top:314px;width:83px;height:52px;"><i style="left:0.0px;width:7.8px;background:#a32a2a"></i><i style="left:7.5px;width:22.7px;background:#cb3333"></i><i style="left:29.9px;width:24.4px;background:#b98686"></i><i style="left:53.9px;width:9.0px;background:#5ab865"></i><i style="left:62.7px;width:20.6px;background:#3e7cba"></i><b><s class="y">Q</s><s class="w">J</s>s</b><u>4.8<span class="o">1</span></u></div><div class="cell on" style="left:339px;top:314px;width:83px;height:52px;"><i style="left:0.0px;width:6.1px;background:#a32a2a"></i><i style="left:5.8px;width:15.1px;background:#cb3333"></i><i style="left:20.6px;width:18.3px;background:#b98686"></i><i style="left:38.6px;width:18.6px;background:#5ab865"></i><i style="left:56.9px;width:26.4px;background:#3e7cba"></i><b><s class="y">Q</s><s class="y">T</s>s</b><u>2.29</u></div><div class="cell on" style="left:423px;top:314px;width:84px;height:52px;"><i style="left:0.0px;width:15.3px;background:#cb3333"></i><i style="left:15.0px;width:15.3px;background:#b98686"></i><i style="left:29.9px;width:23.8px;background:#5ab865"></i><i style="left:53.4px;width:30.9px;background:#3e7cba"></i><b><s class="y">Q</s><s class="w">9</s>s</b><u>0.62</u></div><div class="cell" style="left:508px;top:314px;width:83px;height:52px;"><b><s class="y">Q</s><s class="w">8</s>s</b></div><div class="cell" style="left:592px;top:314px;width:83px;height:52px;"><b><s class="y">Q</s><s class="w">7</s>s</b></div><div class="cell" style="left:676px;top:314px;width:83px;height:52px;"><b><s class="y">Q</s><s class="w">6</s>s</b></div><div class="cell" style="left:760px;top:314px;width:83px;height:52px;"><b><s class="y">Q</s><s class="w">5</s>s</b></div><div class="cell" style="left:844px;top:314px;width:83px;height:52px;"><b><s class="y">Q</s><s class="w">4</s>s</b></div><div class="cell" style="left:928px;top:314px;width:83px;height:52px;"><b><s class="y">Q</s><s class="w">3</s>s</b></div><div class="cell" style="left:1012px;top:314px;width:84px;height:52px;"><b><s class="y">Q</s><s class="w">2</s>s</b></div><div class="cell on" style="left:3px;top:367px;width:83px;height:53px;"><i style="left:0.0px;width:6.1px;background:#a32a2a"></i><i style="left:5.8px;width:12.4px;background:#cb3333"></i><i style="left:17.9px;width:14.4px;background:#b98686"></i><i style="left:32.0px;width:4.0px;background:#5ab865"></i><i style="left:35.8px;width:47.5px;background:#3e7cba"></i><b>A<s class="w">J</s><s class="x">o</s></b><u><span class="o">1</span>.25</u></div><div class="cell on" style="left:87px;top:367px;width:83px;height:53px;"><i style="left:0.0px;width:13.9px;background:#a32a2a"></i><i style="left:13.6px;width:33.3px;background:#cb3333"></i><i style="left:46.6px;width:25.2px;background:#b98686"></i><i style="left:71.5px;width:11.8px;background:#5ab865"></i><b>K<s class="w">J</s><s class="x">o</s></b><u>32.5<span class="o">1</span></u></div><div class="cell on" style="left:171px;top:367px;width:83px;height:53px;"><i style="left:0.0px;width:16.6px;background:#a32a2a"></i><i style="left:16.3px;width:28.8px;background:#cb3333"></i><i style="left:44.7px;width:26.0px;background:#b98686"></i><i style="left:70.5px;width:12.8px;background:#3e7cba"></i><b><s class="y">Q</s><s class="w">J</s><s class="x">o</s></b><u>4.44</u></div><div class="cell on" style="left:255px;top:367px;width:83px;height:53px;"><i style="left:0.0px;width:19.1px;background:#cb3333"></i><i style="left:18.8px;width:30.5px;background:#b98686"></i><i style="left:49.1px;width:34.2px;background:#5ab865"></i><b><s class="w">J</s><s class="w">J</s></b><u>22.<span class="o">1</span><span class="o">1</span></u></div><div class="cell on" style="left:339px;top:367px;width:83px;height:53px;"><i style="left:0.0px;width:13.3px;background:#cb3333"></i><i style="left:13.0px;width:19.4px;background:#b98686"></i><i style="left:32.1px;width:23.0px;background:#5ab865"></i><i style="left:54.8px;width:28.5px;background:#3e7cba"></i><b><s class="w">J</s><s class="y">T</s>s</b><u><span class="o">1</span>.0<span class="o">1</span></u></div><div class="cell" style="left:423px;top:367px;width:84px;height:53px;"><b><s class="w">J</s><s class="w">9</s>s</b></div><div class="cell" style="left:508px;top:367px;width:83px;height:53px;"><b><s class="w">J</s><s class="w">8</s>s</b></div><div class="cell" style="left:592px;top:367px;width:83px;height:53px;"><b><s class="w">J</s><s class="w">7</s>s</b></div><div class="cell" style="left:676px;top:367px;width:83px;height:53px;"><b><s class="w">J</s><s class="w">6</s>s</b></div><div class="cell" style="left:760px;top:367px;width:83px;height:53px;"><b><s class="w">J</s><s class="w">5</s>s</b></div><div class="cell" style="left:844px;top:367px;width:83px;height:53px;"><b><s class="w">J</s><s class="w">4</s>s</b></div><div class="cell" style="left:928px;top:367px;width:83px;height:53px;"><b><s class="w">J</s><s class="w">3</s>s</b></div><div class="cell" style="left:1012px;top:367px;width:84px;height:53px;"><b><s class="w">J</s><s class="w">2</s>s</b></div><div class="cell on" style="left:3px;top:421px;width:83px;height:53px;"><i style="left:0.0px;width:5.3px;background:#cb3333"></i><i style="left:5.0px;width:6.4px;background:#b98686"></i><i style="left:11.0px;width:2.4px;background:#5ab865"></i><i style="left:13.1px;width:70.2px;background:#3e7cba"></i><b>A<s class="y">T</s><s class="x">o</s></b><u>0.25</u></div><div class="cell on" style="left:87px;top:421px;width:83px;height:53px;"><i style="left:0.0px;width:13.0px;background:#cb3333"></i><i style="left:12.7px;width:17.7px;background:#b98686"></i><i style="left:30.1px;width:53.2px;background:#5ab865"></i><b>K<s class="y">T</s><s class="x">o</s></b><u>29.38</u></div><div class="cell" style="left:171px;top:421px;width:83px;height:53px;"><b><s class="y">Q</s><s class="y">T</s><s class="x">o</s></b></div><div class="cell" style="left:255px;top:421px;width:83px;height:53px;"><b><s class="w">J</s><s class="y">T</s><s class="x">o</s></b></div><div class="cell on" style="left:339px;top:421px;width:83px;height:53px;"><i style="left:0.0px;width:1.5px;background:#cb3333"></i><i style="left:1.2px;width:10.8px;background:#b98686"></i><i style="left:11.6px;width:71.7px;background:#5ab865"></i><b><s class="y">T</s><s class="y">T</s></b><u><span class="o">1</span>7.56</u></div><div class="cell on" style="left:423px;top:421px;width:84px;height:53px;"><i style="left:0.0px;width:1.5px;background:#cb3333"></i><i style="left:1.2px;width:9.1px;background:#b98686"></i><i style="left:10.0px;width:31.7px;background:#5ab865"></i><i style="left:41.4px;width:42.9px;background:#3e7cba"></i><b><s class="y">T</s><s class="w">9</s>s</b><u>-2.89</u></div><div class="cell" style="left:508px;top:421px;width:83px;height:53px;"><b><s class="y">T</s><s class="w">8</s>s</b></div><div class="cell" style="left:592px;top:421px;width:83px;height:53px;"><b><s class="y">T</s><s class="w">7</s>s</b></div><div class="cell" style="left:676px;top:421px;width:83px;height:53px;"><b><s class="y">T</s><s class="w">6</s>s</b></div><div class="cell" style="left:760px;top:421px;width:83px;height:53px;"><b><s class="y">T</s><s class="w">5</s>s</b></div><div class="cell" style="left:844px;top:421px;width:83px;height:53px;"><b><s class="y">T</s><s class="w">4</s>s</b></div><div class="cell" style="left:928px;top:421px;width:83px;height:53px;"><b><s class="y">T</s><s class="w">3</s>s</b></div><div class="cell" style="left:1012px;top:421px;width:84px;height:53px;"><b><s class="y">T</s><s class="w">2</s>s</b></div><div class="cell" style="left:3px;top:475px;width:83px;height:53px;"><b>A<s class="w">9</s><s class="x">o</s></b></div><div class="cell" style="left:87px;top:475px;width:83px;height:53px;"><b>K<s class="w">9</s><s class="x">o</s></b></div><div class="cell" style="left:171px;top:475px;width:83px;height:53px;"><b><s class="y">Q</s><s class="w">9</s><s class="x">o</s></b></div><div class="cell" style="left:255px;top:475px;width:83px;height:53px;"><b><s class="w">J</s><s class="w">9</s><s class="x">o</s></b></div><div class="cell" style="left:339px;top:475px;width:83px;height:53px;"><b><s class="y">T</s><s class="w">9</s><s class="x">o</s></b></div><div class="cell on" style="left:423px;top:475px;width:84px;height:53px;"><i style="left:0.0px;width:2.0px;background:#cb3333"></i><i style="left:1.7px;width:1.3px;background:#b98686"></i><i style="left:2.7px;width:81.6px;background:#5ab865"></i><b><s class="z"></s><s class="w">9</s><s class="w">9</s></b><u>2</u></div><div class="cell" style="left:508px;top:475px;width:83px;height:53px;"><b><s class="z"></s><s class="w">9</s><s class="w">8</s>s</b></div><div class="cell" style="left:592px;top:475px;width:83px;height:53px;"><b><s class="z"></s><s class="w">9</s><s class="w">7</s>s</b></div><div class="cell" style="left:676px;top:475px;width:83px;height:53px;"><b><s class="z"></s><s class="w">9</s><s class="w">6</s>s</b></div><div class="cell" style="left:760px;top:475px;width:83px;height:53px;"><b><s class="z"></s><s class="w">9</s><s class="w">5</s>s</b></div><div class="cell" style="left:844px;top:475px;width:83px;height:53px;"><b><s class="z"></s><s class="w">9</s><s class="w">4</s>s</b></div><div class="cell" style="left:928px;top:475px;width:83px;height:53px;"><b><s class="z"></s><s class="w">9</s><s class="w">3</s>s</b></div><div class="cell" style="left:1012px;top:475px;width:84px;height:53px;"><b><s class="z"></s><s class="w">9</s><s class="w">2</s>s</b></div><div class="cell" style="left:3px;top:529px;width:83px;height:53px;"><b>A<s class="w">8</s><s class="x">o</s></b></div><div class="cell" style="left:87px;top:529px;width:83px;height:53px;"><b>K<s class="w">8</s><s class="x">o</s></b></div><div class="cell" style="left:171px;top:529px;width:83px;height:53px;"><b><s class="y">Q</s><s class="w">8</s><s class="x">o</s></b></div><div class="cell" style="left:255px;top:529px;width:83px;height:53px;"><b><s class="w">J</s><s class="w">8</s><s class="x">o</s></b></div><div class="cell" style="left:339px;top:529px;width:83px;height:53px;"><b><s class="y">T</s><s class="w">8</s><s class="x">o</s></b></div><div class="cell" style="left:423px;top:529px;width:84px;height:53px;"><b><s class="z"></s><s class="w">9</s><s class="w">8</s><s class="x">o</s></b></div><div class="cell on" style="left:508px;top:529px;width:83px;height:53px;"><i style="left:0.0px;width:4.0px;background:#cb3333"></i><i style="left:3.7px;width:4.0px;background:#b98686"></i><i style="left:7.5px;width:75.8px;background:#5ab865"></i><b><s class="z"></s><s class="w">8</s><s class="w">8</s></b><u>0.79</u></div><div class="cell" style="left:592px;top:529px;width:83px;height:53px;"><b><s class="z"></s><s class="w">8</s><s class="w">7</s>s</b></div><div class="cell" style="left:676px;top:529px;width:83px;height:53px;"><b><s class="z"></s><s class="w">8</s><s class="w">6</s>s</b></div><div class="cell" style="left:760px;top:529px;width:83px;height:53px;"><b><s class="z"></s><s class="w">8</s><s class="w">5</s>s</b></div><div class="cell" style="left:844px;top:529px;width:83px;height:53px;"><b><s class="z"></s><s class="w">8</s><s class="w">4</s>s</b></div><div class="cell" style="left:928px;top:529px;width:83px;height:53px;"><b><s class="z"></s><s class="w">8</s><s class="w">3</s>s</b></div><div class="cell" style="left:1012px;top:529px;width:84px;height:53px;"><b><s class="z"></s><s class="w">8</s><s class="w">2</s>s</b></div><div class="cell" style="left:3px;top:583px;width:83px;height:53px;"><b>A<s class="w">7</s><s class="x">o</s></b></div><div class="cell" style="left:87px;top:583px;width:83px;height:53px;"><b>K<s class="w">7</s><s class="x">o</s></b></div><div class="cell" style="left:171px;top:583px;width:83px;height:53px;"><b><s class="y">Q</s><s class="w">7</s><s class="x">o</s></b></div><div class="cell" style="left:255px;top:583px;width:83px;height:53px;"><b><s class="w">J</s><s class="w">7</s><s class="x">o</s></b></div><div class="cell" style="left:339px;top:583px;width:83px;height:53px;"><b><s class="y">T</s><s class="w">7</s><s class="x">o</s></b></div><div class="cell" style="left:423px;top:583px;width:84px;height:53px;"><b><s class="z"></s><s class="w">9</s><s class="w">7</s><s class="x">o</s></b></div><div class="cell" style="left:508px;top:583px;width:83px;height:53px;"><b><s class="z"></s><s class="w">8</s><s class="w">7</s><s class="x">o</s></b></div><div class="cell on" style="left:592px;top:583px;width:83px;height:53px;"><i style="left:0.0px;width:3.6px;background:#cb3333"></i><i style="left:3.3px;width:3.6px;background:#b98686"></i><i style="left:6.6px;width:76.7px;background:#5ab865"></i><b><s class="z"></s><s class="w">7</s><s class="w">7</s></b><u>-0.4<span class="o">1</span></u></div><div class="cell on" style="left:676px;top:583px;width:83px;height:53px;"><i style="left:0.0px;width:16.9px;background:#cb3333"></i><i style="left:16.6px;width:26.9px;background:#b98686"></i><i style="left:43.2px;width:40.1px;background:#5ab865"></i><b><s class="z"></s><s class="w">7</s><s class="w">6</s>s</b><u>2.5</u></div><div class="cell" style="left:760px;top:583px;width:83px;height:53px;"><b><s class="z"></s><s class="w">7</s><s class="w">5</s>s</b></div><div class="cell" style="left:844px;top:583px;width:83px;height:53px;"><b><s class="z"></s><s class="w">7</s><s class="w">4</s>s</b></div><div class="cell" style="left:928px;top:583px;width:83px;height:53px;"><b><s class="z"></s><s class="w">7</s><s class="w">3</s>s</b></div><div class="cell" style="left:1012px;top:583px;width:84px;height:53px;"><b><s class="z"></s><s class="w">7</s><s class="w">2</s>s</b></div><div class="cell" style="left:3px;top:637px;width:83px;height:52px;"><b>A<s class="w">6</s><s class="x">o</s></b></div><div class="cell" style="left:87px;top:637px;width:83px;height:52px;"><b>K<s class="w">6</s><s class="x">o</s></b></div><div class="cell" style="left:171px;top:637px;width:83px;height:52px;"><b><s class="y">Q</s><s class="w">6</s><s class="x">o</s></b></div><div class="cell" style="left:255px;top:637px;width:83px;height:52px;"><b><s class="w">J</s><s class="w">6</s><s class="x">o</s></b></div><div class="cell" style="left:339px;top:637px;width:83px;height:52px;"><b><s class="y">T</s><s class="w">6</s><s class="x">o</s></b></div><div class="cell" style="left:423px;top:637px;width:84px;height:52px;"><b><s class="z"></s><s class="w">9</s><s class="w">6</s><s class="x">o</s></b></div><div class="cell" style="left:508px;top:637px;width:83px;height:52px;"><b><s class="z"></s><s class="w">8</s><s class="w">6</s><s class="x">o</s></b></div><div class="cell" style="left:592px;top:637px;width:83px;height:52px;"><b><s class="z"></s><s class="w">7</s><s class="w">6</s><s class="x">o</s></b></div><div class="cell on" style="left:676px;top:637px;width:83px;height:52px;"><i style="left:0.0px;width:9.4px;background:#cb3333"></i><i style="left:9.1px;width:11.1px;background:#b98686"></i><i style="left:19.9px;width:63.4px;background:#5ab865"></i><b><s class="z"></s><s class="w">6</s><s class="w">6</s></b><u>0.46</u></div><div class="cell on" style="left:760px;top:637px;width:83px;height:52px;"><i style="left:0.0px;width:14.2px;background:#cb3333"></i><i style="left:13.9px;width:26.2px;background:#b98686"></i><i style="left:39.8px;width:43.5px;background:#5ab865"></i><b><s class="z"></s><s class="w">6</s><s class="w">5</s>s</b><u>5.<span class="o">1</span>7</u></div><div class="cell" style="left:844px;top:637px;width:83px;height:52px;"><b><s class="z"></s><s class="w">6</s><s class="w">4</s>s</b></div><div class="cell" style="left:928px;top:637px;width:83px;height:52px;"><b><s class="z"></s><s class="w">6</s><s class="w">3</s>s</b></div><div class="cell" style="left:1012px;top:637px;width:84px;height:52px;"><b><s class="z"></s><s class="w">6</s><s class="w">2</s>s</b></div><div class="cell" style="left:3px;top:690px;width:83px;height:53px;"><b>A<s class="w">5</s><s class="x">o</s></b></div><div class="cell" style="left:87px;top:690px;width:83px;height:53px;"><b>K<s class="w">5</s><s class="x">o</s></b></div><div class="cell" style="left:171px;top:690px;width:83px;height:53px;"><b><s class="y">Q</s><s class="w">5</s><s class="x">o</s></b></div><div class="cell" style="left:255px;top:690px;width:83px;height:53px;"><b><s class="w">J</s><s class="w">5</s><s class="x">o</s></b></div><div class="cell" style="left:339px;top:690px;width:83px;height:53px;"><b><s class="y">T</s><s class="w">5</s><s class="x">o</s></b></div><div class="cell" style="left:423px;top:690px;width:84px;height:53px;"><b><s class="z"></s><s class="w">9</s><s class="w">5</s><s class="x">o</s></b></div><div class="cell" style="left:508px;top:690px;width:83px;height:53px;"><b><s class="z"></s><s class="w">8</s><s class="w">5</s><s class="x">o</s></b></div><div class="cell" style="left:592px;top:690px;width:83px;height:53px;"><b><s class="z"></s><s class="w">7</s><s class="w">5</s><s class="x">o</s></b></div><div class="cell" style="left:676px;top:690px;width:83px;height:53px;"><b><s class="z"></s><s class="w">6</s><s class="w">5</s><s class="x">o</s></b></div><div class="cell on" style="left:760px;top:690px;width:83px;height:53px;"><i style="left:0.0px;width:4.1px;background:#a32a2a"></i><i style="left:3.8px;width:22.4px;background:#cb3333"></i><i style="left:25.9px;width:15.7px;background:#b98686"></i><i style="left:41.3px;width:42.0px;background:#5ab865"></i><b><s class="z"></s><s class="w">5</s><s class="w">5</s></b><u><span class="o">1</span>.44</u></div><div class="cell on" style="left:844px;top:690px;width:83px;height:53px;"><i style="left:0.0px;width:11.9px;background:#a32a2a"></i><i style="left:11.6px;width:28.3px;background:#cb3333"></i><i style="left:39.6px;width:21.5px;background:#b98686"></i><i style="left:60.8px;width:2.0px;background:#5ab865"></i><i style="left:62.5px;width:20.8px;background:#3e7cba"></i><b><s class="z"></s><s class="w">5</s><s class="w">4</s>s</b><u>4.93</u></div><div class="cell" style="left:928px;top:690px;width:83px;height:53px;"><b><s class="z"></s><s class="w">5</s><s class="w">3</s>s</b></div><div class="cell" style="left:1012px;top:690px;width:84px;height:53px;"><b><s class="z"></s><s class="w">5</s><s class="w">2</s>s</b></div><div class="cell" style="left:3px;top:744px;width:83px;height:53px;"><b>A<s class="w">4</s><s class="x">o</s></b></div><div class="cell" style="left:87px;top:744px;width:83px;height:53px;"><b>K<s class="w">4</s><s class="x">o</s></b></div><div class="cell" style="left:171px;top:744px;width:83px;height:53px;"><b><s class="y">Q</s><s class="w">4</s><s class="x">o</s></b></div><div class="cell" style="left:255px;top:744px;width:83px;height:53px;"><b><s class="w">J</s><s class="w">4</s><s class="x">o</s></b></div><div class="cell" style="left:339px;top:744px;width:83px;height:53px;"><b><s class="y">T</s><s class="w">4</s><s class="x">o</s></b></div><div class="cell" style="left:423px;top:744px;width:84px;height:53px;"><b><s class="z"></s><s class="w">9</s><s class="w">4</s><s class="x">o</s></b></div><div class="cell" style="left:508px;top:744px;width:83px;height:53px;"><b><s class="z"></s><s class="w">8</s><s class="w">4</s><s class="x">o</s></b></div><div class="cell" style="left:592px;top:744px;width:83px;height:53px;"><b><s class="z"></s><s class="w">7</s><s class="w">4</s><s class="x">o</s></b></div><div class="cell" style="left:676px;top:744px;width:83px;height:53px;"><b><s class="z"></s><s class="w">6</s><s class="w">4</s><s class="x">o</s></b></div><div class="cell" style="left:760px;top:744px;width:83px;height:53px;"><b><s class="z"></s><s class="w">5</s><s class="w">4</s><s class="x">o</s></b></div><div class="cell" style="left:844px;top:744px;width:83px;height:53px;"><b><s class="z"></s><s class="w">4</s><s class="w">4</s></b></div><div class="cell" style="left:928px;top:744px;width:83px;height:53px;"><b><s class="z"></s><s class="w">4</s><s class="w">3</s>s</b></div><div class="cell" style="left:1012px;top:744px;width:84px;height:53px;"><b><s class="z"></s><s class="w">4</s><s class="w">2</s>s</b></div><div class="cell" style="left:3px;top:798px;width:83px;height:53px;"><b>A<s class="w">3</s><s class="x">o</s></b></div><div class="cell" style="left:87px;top:798px;width:83px;height:53px;"><b>K<s class="w">3</s><s class="x">o</s></b></div><div class="cell" style="left:171px;top:798px;width:83px;height:53px;"><b><s class="y">Q</s><s class="w">3</s><s class="x">o</s></b></div><div class="cell" style="left:255px;top:798px;width:83px;height:53px;"><b><s class="w">J</s><s class="w">3</s><s class="x">o</s></b></div><div class="cell" style="left:339px;top:798px;width:83px;height:53px;"><b><s class="y">T</s><s class="w">3</s><s class="x">o</s></b></div><div class="cell" style="left:423px;top:798px;width:84px;height:53px;"><b><s class="z"></s><s class="w">9</s><s class="w">3</s><s class="x">o</s></b></div><div class="cell" style="left:508px;top:798px;width:83px;height:53px;"><b><s class="z"></s><s class="w">8</s><s class="w">3</s><s class="x">o</s></b></div><div class="cell" style="left:592px;top:798px;width:83px;height:53px;"><b><s class="z"></s><s class="w">7</s><s class="w">3</s><s class="x">o</s></b></div><div class="cell" style="left:676px;top:798px;width:83px;height:53px;"><b><s class="z"></s><s class="w">6</s><s class="w">3</s><s class="x">o</s></b></div><div class="cell" style="left:760px;top:798px;width:83px;height:53px;"><b><s class="z"></s><s class="w">5</s><s class="w">3</s><s class="x">o</s></b></div><div class="cell" style="left:844px;top:798px;width:83px;height:53px;"><b><s class="z"></s><s class="w">4</s><s class="w">3</s><s class="x">o</s></b></div><div class="cell" style="left:928px;top:798px;width:83px;height:53px;"><b><s class="z"></s><s class="w">3</s><s class="w">3</s></b></div><div class="cell" style="left:1012px;top:798px;width:84px;height:53px;"><b><s class="z"></s><s class="w">3</s><s class="w">2</s>s</b></div><div class="cell" style="left:3px;top:852px;width:83px;height:53px;"><b>A<s class="w">2</s><s class="x">o</s></b></div><div class="cell" style="left:87px;top:852px;width:83px;height:53px;"><b>K<s class="w">2</s><s class="x">o</s></b></div><div class="cell" style="left:171px;top:852px;width:83px;height:53px;"><b><s class="y">Q</s><s class="w">2</s><s class="x">o</s></b></div><div class="cell" style="left:255px;top:852px;width:83px;height:53px;"><b><s class="w">J</s><s class="w">2</s><s class="x">o</s></b></div><div class="cell" style="left:339px;top:852px;width:83px;height:53px;"><b><s class="y">T</s><s class="w">2</s><s class="x">o</s></b></div><div class="cell" style="left:423px;top:852px;width:84px;height:53px;"><b><s class="z"></s><s class="w">9</s><s class="w">2</s><s class="x">o</s></b></div><div class="cell" style="left:508px;top:852px;width:83px;height:53px;"><b><s class="z"></s><s class="w">8</s><s class="w">2</s><s class="x">o</s></b></div><div class="cell" style="left:592px;top:852px;width:83px;height:53px;"><b><s class="z"></s><s class="w">7</s><s class="w">2</s><s class="x">o</s></b></div><div class="cell" style="left:676px;top:852px;width:83px;height:53px;"><b><s class="z"></s><s class="w">6</s><s class="w">2</s><s class="x">o</s></b></div><div class="cell" style="left:760px;top:852px;width:83px;height:53px;"><b><s class="z"></s><s class="w">5</s><s class="w">2</s><s class="x">o</s></b></div><div class="cell" style="left:844px;top:852px;width:83px;height:53px;"><b><s class="z"></s><s class="w">4</s><s class="w">2</s><s class="x">o</s></b></div><div class="cell" style="left:928px;top:852px;width:83px;height:53px;"><b><s class="z"></s><s class="w">3</s><s class="w">2</s><s class="x">o</s></b></div><div class="cell" style="left:1012px;top:852px;width:84px;height:53px;"><b><s class="z"></s><s class="w">2</s><s class="w">2</s></b></div><div class="a" style="left:1110px;top:176px;width:69px;height:26px;background:#1d1d1d;border-radius:0px;border-radius:6px 6px 0 0"></div><div class="a" style="left:1110px;top:201px;width:790px;height:41px;background:#1d1d1d;border-radius:6px;border-top-left-radius:0"></div><div class="a" style="left:1179px;top:195px;width:6px;height:6px;background:radial-gradient(circle at 100% 0,rgba(28,28,28,0) 5.5px,#1d1d1d 6px)"></div><div class="a t" style="left:1125.5px;top:180px;font-size:12.5px;line-height:18px;color:#fff;font-weight:400;letter-spacing:.25px;-webkit-text-stroke:.4px #fff">Обзор</div><div class="a t" style="left:1199px;top:180px;font-size:12.5px;line-height:18px;color:#a0a0a0;font-weight:400;letter-spacing:.2px;-webkit-text-stroke:.22px currentColor">Таблица</div><div class="a t" style="left:1284px;top:180px;font-size:12.5px;line-height:18px;color:#a0a0a0;font-weight:400;letter-spacing:.2px;-webkit-text-stroke:.22px currentColor">Таблица Эквити</div><div class="pos" style="left:1114px;color:#444;font-weight:400;letter-spacing:.35px;-webkit-text-stroke:.2px #444;">UTG<br><span style="color:#444;letter-spacing:.3px"><span class="o">1</span>00</span></div><div class="pos" style="left:1167px;color:#444;font-weight:400;letter-spacing:.35px;-webkit-text-stroke:.2px #444;">HJ<br><span style="color:#444;letter-spacing:.3px"><span class="o">1</span>00</span></div><div class="pos" style="left:1219px;color:#fff;">CO<br><span style="color:#d8d8d8;letter-spacing:.3px">8<span class="o">1</span>.55</span></div><div class="pos" style="left:1272px;color:#0fb597;">BTN<br><span style="color:#0fb597;letter-spacing:.3px">87.05</span></div><div class="pos" style="left:1324px;color:#444;font-weight:400;letter-spacing:.35px;-webkit-text-stroke:.2px #444;">SB<br><span style="color:#444;letter-spacing:.3px">99.5</span></div><div class="pos" style="left:1377px;color:#444;font-weight:400;letter-spacing:.35px;-webkit-text-stroke:.2px #444;">BB<br><span style="color:#444;letter-spacing:.3px">99</span></div><div class="a t" style="left:1446.5px;top:205.5px;font-size:12.5px;line-height:16px;color:#fff;font-weight:700;letter-spacing:.05px">32.9 BB</div><div class="a t" style="left:1500.3px;top:205.5px;font-size:12px;line-height:16px;color:#a0a0a0;font-weight:700;letter-spacing:.1px">27.4 BB</div><div class="a t" style="left:1440px;top:223.2px;font-size:10px;line-height:14px;color:#a0a0a0;font-weight:400;letter-spacing:.12px;-webkit-text-stroke:.22px currentColor">Шансы банка:</div><div class="a t" style="left:1514.5px;top:221.5px;font-size:13px;line-height:16px;color:#a0a0a0;font-weight:700;letter-spacing:.2px"><span class="o">1</span>4.3%</div><div class="pc" style="left:1565px;top:205px;width:20px;height:33px;background:#b21008;border-radius:3px"><svg class="a" style="left:1.3px;top:1.4px" width="30.6" height="30.6" viewBox="2 3 20 18.35" preserveAspectRatio="none"><path fill="#6d0a04" d="M12 21.35l-1.450-1.320C5.400 15.360 2 12.270 2 8.500 2 5.410 4.420 3 7.500 3c1.740 0 3.410.810 4.500 2.080C13.090 3.810 14.760 3 16.500 3 19.580 3 22 5.410 22 8.500c0 3.770-3.400 6.860-8.550 11.530L12 21.350z"/></svg><span style="top:-0.5px;font-size:25.5px;line-height:33px">K</span></div><div class="pc" style="left:1587px;top:205px;width:19.2px;height:33px;background:#10ae2e;border-radius:3px"><svg class="a" style="left:1.5px;top:1.4px" width="28.9" height="30.6" viewBox="4 2 16 20" preserveAspectRatio="none"><path fill="#0a6c1c" d="M12 2c2.300 0 4.300 2 4.300 4.200-.020 1.800-.700 2.700-1.900 3.800 2.400-.700 5.600.700 5.600 4 0 2.900-2.200 4.500-4.500 4.500-1.100 0-2-.400-3-1.500 0 0-.200 2.500 2 5H9.500c2.200-2.500 2-5 2-5-1 1.100-1.900 1.500-3 1.500C6.200 18.500 4 16.900 4 14c0-3.300 3.200-4.700 5.600-4-1.200-1.100-1.900-2-1.900-3.800C7.700 4 9.700 2 12 2z"/></svg><span style="top:-0.5px;font-size:25.5px;line-height:33px">K</span></div><div class="pc" style="left:1608px;top:205px;width:20px;height:33px;background:#2434c8;border-radius:3px"><svg class="a" style="left:6.3px;top:1.4px" width="20.6" height="30.6" viewBox="5 2 14 20" preserveAspectRatio="none"><path fill="#182489" d="M19 12l-7 10-7-10 7-10z"/></svg><span style="top:-0.5px;font-size:25.5px;line-height:33px">4</span></div><div class="pc" style="left:1630px;top:205px;width:20px;height:33px;background:#b21008;border-radius:3px"><svg class="a" style="left:1.3px;top:1.4px" width="30.6" height="30.6" viewBox="2 3 20 18.35" preserveAspectRatio="none"><path fill="#6d0a04" d="M12 21.35l-1.450-1.320C5.400 15.360 2 12.270 2 8.500 2 5.410 4.420 3 7.500 3c1.740 0 3.410.810 4.500 2.080C13.090 3.810 14.760 3 16.500 3 19.580 3 22 5.410 22 8.500c0 3.770-3.400 6.860-8.550 11.530L12 21.350z"/></svg><span style="top:-0.5px;font-size:25px;line-height:33px">3</span></div><div class="a" style="left:1110px;top:251px;width:105px;height:27px;background:#1d1d1d;border-radius:0px;border-radius:6px 6px 0 0"></div><div class="a" style="left:1110px;top:276px;width:790px;height:162px;background:#1d1d1d;border-radius:6px;border-top-left-radius:0"></div><div class="a" style="left:1215px;top:270px;width:6px;height:6px;background:radial-gradient(circle at 100% 0,rgba(28,28,28,0) 5.5px,#1d1d1d 6px)"></div><div class="a t" style="left:1126px;top:255px;font-size:12.5px;line-height:18px;color:#fff;font-weight:700;letter-spacing:-.1px">Действия</div><svg class="a" style="left:1188px;top:255px;" width="18" height="18" viewBox="0 0 24 24"><path fill="#fff" d="M7 10l5 5 5-5z"/></svg><div class="ab" style="left:1114px;top:280px;width:193px;height:63px;background:#6a1717"><div class="n">Allin 87.05 <small>(2<span class="o">1</span>2%)</small></div><svg class="a" style="right:3.500px;top:4px" width="15.500" height="15.500" viewBox="0 0 24 24"><path fill="rgba(255,255,255,.78)" d="M19 5v14H5V5h14m0-2H5c-1.100 0-2 .9-2 2v14c0 1.100.9 2 2 2h14c1.100 0 2-.9 2-2V5c0-1.100-.9-2-2-2zM7 7h10v2H7zm0 4h10v2H7zm0 4h7v2H7z"/></svg><div class="f">0%</div><div class="c">0.0<span class="o">1</span><s>combos</s></div></div><div class="ab" style="left:1311px;top:280px;width:192px;height:63px;background:#7d1d1d"><div class="n">Raise 5<span class="o">1</span>.6 <small>(<span class="o">1</span>20%)</small></div><svg class="a" style="right:3.500px;top:4px" width="15.500" height="15.500" viewBox="0 0 24 24"><path fill="rgba(255,255,255,.78)" d="M19 5v14H5V5h14m0-2H5c-1.100 0-2 .9-2 2v14c0 1.100.9 2 2 2h14c1.100 0 2-.9 2-2V5c0-1.100-.9-2-2-2zM7 7h10v2H7zm0 4h10v2H7zm0 4h7v2H7z"/></svg><div class="f">0.<span class="o">1</span>%</div><div class="c">0.0<span class="o">1</span><s>combos</s></div></div><div class="ab" style="left:1507px;top:280px;width:192px;height:63px;background:#a32a2a"><div class="n">Raise 37.35 <small>(83%)</small></div><svg class="a" style="right:3.500px;top:4px" width="15.500" height="15.500" viewBox="0 0 24 24"><path fill="rgba(255,255,255,.78)" d="M19 5v14H5V5h14m0-2H5c-1.100 0-2 .9-2 2v14c0 1.100.9 2 2 2h14c1.100 0 2-.9 2-2V5c0-1.100-.9-2-2-2zM7 7h10v2H7zm0 4h10v2H7zm0 4h7v2H7z"/></svg><div class="f">5.9%</div><div class="c">0.63<s>combos</s></div></div><div class="ab" style="left:1703px;top:280px;width:193px;height:63px;background:#cb3333"><div class="n">Raise 26.6 <small>(55%)</small></div><svg class="a" style="right:3.500px;top:4px" width="15.500" height="15.500" viewBox="0 0 24 24"><path fill="rgba(255,255,255,.78)" d="M19 5v14H5V5h14m0-2H5c-1.100 0-2 .9-2 2v14c0 1.100.9 2 2 2h14c1.100 0 2-.9 2-2V5c0-1.100-.9-2-2-2zM7 7h10v2H7zm0 4h10v2H7zm0 4h7v2H7z"/></svg><div class="f"><span class="o">1</span>5.9%</div><div class="c"><span class="o">1</span>.7<s>combos</s></div></div><div class="ab" style="left:1114px;top:347px;width:193px;height:62px;background:#b98686"><div class="n">Raise <span class="o">1</span>8.95 <small>(35%)</small></div><svg class="a" style="right:3.500px;top:4px" width="15.500" height="15.500" viewBox="0 0 24 24"><path fill="rgba(255,255,255,.78)" d="M19 5v14H5V5h14m0-2H5c-1.100 0-2 .9-2 2v14c0 1.100.9 2 2 2h14c1.100 0 2-.9 2-2V5c0-1.100-.9-2-2-2zM7 7h10v2H7zm0 4h10v2H7zm0 4h7v2H7z"/></svg><div class="f">20.6%</div><div class="c">2.2<span class="o">1</span><s>combos</s></div></div><div class="ab" style="left:1311px;top:347px;width:192px;height:62px;background:#5ab865"><div class="n">Call</div><svg class="a" style="right:3.500px;top:4px" width="15.500" height="15.500" viewBox="0 0 24 24"><path fill="rgba(255,255,255,.78)" d="M19 5v14H5V5h14m0-2H5c-1.100 0-2 .9-2 2v14c0 1.100.9 2 2 2h14c1.100 0 2-.9 2-2V5c0-1.100-.9-2-2-2zM7 7h10v2H7zm0 4h10v2H7zm0 4h7v2H7z"/></svg><div class="f">3<span class="o">1</span>.2%</div><div class="c">3.34<s>combos</s></div></div><div class="ab" style="left:1507px;top:347px;width:192px;height:62px;background:#3e7cba"><div class="n">Fold</div><svg class="a" style="right:3.500px;top:4px" width="15.500" height="15.500" viewBox="0 0 24 24"><path fill="rgba(255,255,255,.78)" d="M19 5v14H5V5h14m0-2H5c-1.100 0-2 .9-2 2v14c0 1.100.9 2 2 2h14c1.100 0 2-.9 2-2V5c0-1.100-.9-2-2-2zM7 7h10v2H7zm0 4h10v2H7zm0 4h7v2H7z"/></svg><div class="f">26.3%</div><div class="c">2.8<span class="o">1</span><s>combos</s></div></div><div class="a" style="left:1114px;top:413px;width:782px;height:21px;border-radius:4px;overflow:hidden"><i class="a" style="left:0px;width:2.0px;top:0;bottom:0;background:#701a1a"></i><i class="a" style="left:1.5px;width:47.0px;top:0;bottom:0;background:#a32a2a"></i><i class="a" style="left:48px;width:124.5px;top:0;bottom:0;background:#cb3333"></i><i class="a" style="left:172px;width:161.5px;top:0;bottom:0;background:#b98686"></i><i class="a" style="left:333px;width:243.5px;top:0;bottom:0;background:#5ab865"></i><i class="a" style="left:576px;width:206.5px;top:0;bottom:0;background:#3e7cba"></i></div><div class="a" style="left:1174px;top:447px;width:79px;height:26px;background:#1d1d1d;border-radius:0px;border-radius:6px 6px 0 0"></div><div class="a" style="left:1257px;top:447px;width:110px;height:26px;background:#1d1d1d;border-radius:0px;border-radius:6px 6px 0 0"></div><div class="a" style="left:1110px;top:472px;width:790px;height:431px;background:#1d1d1d;border-radius:0px;border-radius:6px 6px 0 0"></div><div class="a" style="left:1168px;top:466px;width:6px;height:6px;background:radial-gradient(circle at 0 0,rgba(28,28,28,0) 5.5px,#1d1d1d 6px)"></div><div class="a" style="left:1253px;top:468px;width:4px;height:4px;background:radial-gradient(circle at 100% 0,rgba(28,28,28,0) 3.5px,#1d1d1d 4px)"></div><div class="a" style="left:1253px;top:468px;width:4px;height:4px;background:radial-gradient(circle at 0 0,rgba(28,28,28,0) 3.5px,#1d1d1d 4px)"></div><div class="a" style="left:1367px;top:466px;width:6px;height:6px;background:radial-gradient(circle at 100% 0,rgba(28,28,28,0) 5.5px,#1d1d1d 6px)"></div><div class="a t" style="left:1126px;top:451px;font-size:12.5px;line-height:18px;color:#a0a0a0;font-weight:400;letter-spacing:.2px;-webkit-text-stroke:.22px currentColor">руки</div><div class="a t" style="left:1189px;top:451px;font-size:12.5px;line-height:18px;color:#fff;font-weight:700;letter-spacing:-.2px">резюме</div><div class="a t" style="left:1272px;top:451px;font-size:12.5px;line-height:18px;color:#fff;font-weight:700;letter-spacing:-.2px">фильтры</div><svg class="a" style="left:1336px;top:454px" width="12" height="12" viewBox="0 0 12 12"><g fill="none" stroke="#fff" stroke-width="1.300"><rect x="0.700" y="0.700" width="7" height="7" rx="1"/><rect x="4.300" y="4.300" width="7" height="7" rx="1"/></g></svg><div class="a t" style="left:1386px;top:451px;font-size:12.5px;line-height:18px;color:#a0a0a0;font-weight:400;letter-spacing:.2px;-webkit-text-stroke:.22px currentColor">Блокеры</div><div class="a" style="left:1121px;top:483px;width:74px;height:21px;background:#2a2a2a;border-radius:4px;"></div><div class="a t" style="left:1128px;top:484px;font-size:12.5px;line-height:18px;color:#fff;font-weight:700;letter-spacing:-.25px">Включить</div><div class="a t" style="left:1204px;top:484px;font-size:12.5px;line-height:18px;color:#a0a0a0;font-weight:400;letter-spacing:.2px;-webkit-text-stroke:.22px currentColor">Исключить</div><div class="a t" style="left:1123px;top:516px;font-size:10.3px;line-height:14px;color:#b0b0b0;font-weight:700;letter-spacing:-.1px">Разномастные</div><svg class="a" style="left:1203.5px;top:512.0px;" width="22" height="22" viewBox="0 0 24 24"><path fill="#fff" d="M12 2C9 7 4 9 4 14c0 2 2 4 4 4 1 0 2-.5 3-1.500 0 0 .320 2.500-2 5.500h6c-2.320-3-2-5.500-2-5.500 1 1 2 1.500 3 1.500 2 0 4-2 4-4 0-5-5-7-8-12z"/></svg><svg class="a" style="left:1226px;top:512.25px;" width="21.5" height="21.5" viewBox="0 0 24 24"><path fill="#fff" d="M12 21.35l-1.450-1.320C5.400 15.360 2 12.270 2 8.500 2 5.410 4.420 3 7.500 3c1.740 0 3.410.810 4.500 2.080C13.090 3.810 14.760 3 16.500 3 19.580 3 22 5.410 22 8.500c0 3.770-3.400 6.860-8.550 11.530L12 21.350z"/></svg><svg class="a" style="left:1249px;top:512.25px;" width="21.5" height="21.5" viewBox="0 0 24 24"><path fill="#fff" d="M19 12l-7 10-7-10 7-10z"/></svg><svg class="a" style="left:1270.5px;top:511.5px;" width="23" height="23" viewBox="0 0 24 24"><path fill="#fff" d="M12 2c2.300 0 4.300 2 4.300 4.200-.020 1.800-.700 2.700-1.900 3.800 2.400-.700 5.600.700 5.600 4 0 2.900-2.200 4.500-4.500 4.500-1.100 0-2-.400-3-1.500 0 0-.200 2.500 2 5H9.500c2.200-2.500 2-5 2-5-1 1.100-1.900 1.500-3 1.500C6.200 18.500 4 16.900 4 14c0-3.300 3.200-4.700 5.600-4-1.200-1.100-1.900-2-1.900-3.800C7.700 4 9.700 2 12 2z"/></svg><div class="a t" style="left:1307px;top:516px;font-size:10.3px;line-height:14px;color:#b0b0b0;font-weight:700;letter-spacing:-.1px">Одномастные</div><svg class="a" style="left:1386.5px;top:512.0px;" width="22" height="22" viewBox="0 0 24 24"><path fill="#fff" d="M12 2C9 7 4 9 4 14c0 2 2 4 4 4 1 0 2-.5 3-1.500 0 0 .320 2.500-2 5.500h6c-2.320-3-2-5.500-2-5.500 1 1 2 1.500 3 1.500 2 0 4-2 4-4 0-5-5-7-8-12z"/></svg><svg class="a" style="left:1381.5px;top:512.0px;filter:drop-shadow(1.2px 0 0 #1c1c1c)" width="22" height="22" viewBox="0 0 24 24"><path fill="#fff" d="M12 2C9 7 4 9 4 14c0 2 2 4 4 4 1 0 2-.5 3-1.500 0 0 .320 2.500-2 5.500h6c-2.320-3-2-5.500-2-5.500 1 1 2 1.500 3 1.500 2 0 4-2 4-4 0-5-5-7-8-12z"/></svg><svg class="a" style="left:1409.5px;top:512.25px;" width="21.5" height="21.5" viewBox="0 0 24 24"><path fill="#fff" d="M12 21.35l-1.450-1.320C5.400 15.360 2 12.270 2 8.500 2 5.410 4.420 3 7.500 3c1.740 0 3.410.810 4.500 2.080C13.090 3.810 14.760 3 16.500 3 19.580 3 22 5.410 22 8.500c0 3.770-3.400 6.860-8.550 11.530L12 21.350z"/></svg><svg class="a" style="left:1404.5px;top:512.25px;filter:drop-shadow(1.2px 0 0 #1c1c1c)" width="21.5" height="21.5" viewBox="0 0 24 24"><path fill="#fff" d="M12 21.35l-1.450-1.320C5.400 15.360 2 12.270 2 8.500 2 5.410 4.420 3 7.500 3c1.740 0 3.410.810 4.500 2.080C13.090 3.810 14.760 3 16.500 3 19.580 3 22 5.410 22 8.500c0 3.770-3.400 6.860-8.550 11.530L12 21.350z"/></svg><svg class="a" style="left:1433px;top:512.25px;" width="21.5" height="21.5" viewBox="0 0 24 24"><path fill="#fff" d="M19 12l-7 10-7-10 7-10z"/></svg><svg class="a" style="left:1428px;top:512.25px;filter:drop-shadow(1.2px 0 0 #1c1c1c)" width="21.5" height="21.5" viewBox="0 0 24 24"><path fill="#fff" d="M19 12l-7 10-7-10 7-10z"/></svg><svg class="a" style="left:1454.5px;top:511.5px;" width="23" height="23" viewBox="0 0 24 24"><path fill="#fff" d="M12 2c2.300 0 4.300 2 4.300 4.200-.020 1.800-.700 2.700-1.900 3.800 2.400-.700 5.600.700 5.600 4 0 2.900-2.200 4.500-4.500 4.500-1.100 0-2-.400-3-1.500 0 0-.200 2.500 2 5H9.500c2.200-2.500 2-5 2-5-1 1.100-1.900 1.500-3 1.500C6.200 18.500 4 16.900 4 14c0-3.300 3.200-4.700 5.600-4-1.200-1.100-1.900-2-1.900-3.800C7.700 4 9.700 2 12 2z"/></svg><svg class="a" style="left:1449.5px;top:511.5px;filter:drop-shadow(1.2px 0 0 #1c1c1c)" width="23" height="23" viewBox="0 0 24 24"><path fill="#fff" d="M12 2c2.300 0 4.300 2 4.300 4.200-.020 1.800-.700 2.700-1.900 3.800 2.400-.700 5.600.700 5.600 4 0 2.900-2.200 4.500-4.500 4.500-1.100 0-2-.400-3-1.500 0 0-.200 2.500 2 5H9.500c2.200-2.500 2-5 2-5-1 1.100-1.900 1.500-3 1.500C6.200 18.500 4 16.900 4 14c0-3.300 3.200-4.700 5.600-4-1.200-1.100-1.900-2-1.900-3.800C7.700 4 9.700 2 12 2z"/></svg><div class="hh" style="left:1121px;top:549px">руки</div><div class="a" style="left:1483px;top:552px;width:10px;height:10px;background:#555;border-radius:2px;"></div><div class="hn" style="left:1121px;top:571px">Каре</div><div class="hp" style="right:606px;top:571px">5.<span class="o">1</span>%</div><div class="bar" style="left:1303.5px;top:574px;width:194.5px"><i style="left:0.0px;width:14.7px;background:#a32a2a"></i><i style="left:14.4px;width:23.3px;background:#cb3333"></i><i style="left:37.3px;width:76.5px;background:#b98686"></i><i style="left:113.6px;width:81.2px;background:#5ab865"></i></div><div class="hn" style="left:1121px;top:592px">Трипс</div><div class="hp" style="right:606px;top:592px"><span class="o">1</span>3.7%</div><div class="bar" style="left:1303.5px;top:595px;width:194.5px"><i style="left:0.0px;width:26.6px;background:#a32a2a"></i><i style="left:26.3px;width:69.5px;background:#cb3333"></i><i style="left:95.5px;width:60.4px;background:#b98686"></i><i style="left:155.6px;width:39.2px;background:#5ab865"></i></div><div class="hn" style="left:1121px;top:613px">Оверпары</div><div class="hp" style="right:606px;top:613px">5.<span class="o">1</span>%</div><div class="bar" style="left:1303.5px;top:616px;width:194.5px"><i style="left:0.0px;width:10.8px;background:#cb3333"></i><i style="left:10.5px;width:49.3px;background:#b98686"></i><i style="left:59.5px;width:135.3px;background:#5ab865"></i></div><div class="hn" style="left:1121px;top:634px">Андерпара</div><div class="hp" style="right:606px;top:634px">22.3%</div><div class="bar" style="left:1303.5px;top:637px;width:194.5px"><i style="left:0.0px;width:6.7px;background:#a32a2a"></i><i style="left:6.4px;width:24.4px;background:#cb3333"></i><i style="left:30.5px;width:38.2px;background:#b98686"></i><i style="left:68.5px;width:126.3px;background:#5ab865"></i></div><div class="hn" style="left:1121px;top:655px">Вторая пара</div><div class="hp" style="right:606px;top:655px"><span class="o">1</span>.6%</div><div class="bar" style="left:1303.5px;top:658px;width:194.5px"><i style="left:0.0px;width:17.8px;background:#a32a2a"></i><i style="left:17.5px;width:49.3px;background:#cb3333"></i><i style="left:66.5px;width:40.4px;background:#b98686"></i><i style="left:106.6px;width:56.3px;background:#5ab865"></i><i style="left:162.6px;width:32.2px;background:#3e7cba"></i></div><div class="hn" style="left:1121px;top:676px">Третья пара</div><div class="hp" style="right:606px;top:676px"><span class="o">1</span>.5%</div><div class="bar" style="left:1303.5px;top:679px;width:194.5px"><i style="left:0.0px;width:7.9px;background:#a32a2a"></i><i style="left:7.6px;width:28.5px;background:#cb3333"></i><i style="left:35.8px;width:22.5px;background:#b98686"></i><i style="left:58.0px;width:50.1px;background:#5ab865"></i><i style="left:107.8px;width:87.0px;background:#3e7cba"></i></div><div class="hn" style="left:1121px;top:697px">Туз-хай</div><div class="hp" style="right:606px;top:697px">40.4%</div><div class="bar" style="left:1303.5px;top:700px;width:194.5px"><i style="left:0.0px;width:10.0px;background:#a32a2a"></i><i style="left:9.7px;width:23.3px;background:#cb3333"></i><i style="left:32.7px;width:27.1px;background:#b98686"></i><i style="left:59.5px;width:26.4px;background:#5ab865"></i><i style="left:85.6px;width:109.2px;background:#3e7cba"></i></div><div class="hn" style="left:1121px;top:718px">Неготовая рука</div><div class="hp" style="right:606px;top:718px"><span class="o">1</span>0.3%</div><div class="bar" style="left:1303.5px;top:721px;width:194.5px"><i style="left:0.0px;width:17.0px;background:#a32a2a"></i><i style="left:16.7px;width:39.2px;background:#cb3333"></i><i style="left:55.6px;width:48.1px;background:#b98686"></i><i style="left:103.5px;width:41.5px;background:#5ab865"></i><i style="left:144.7px;width:50.1px;background:#3e7cba"></i></div><div class="hh" style="left:1121px;top:754px">EQ категории - Просто</div><div class="a" style="left:1483px;top:757px;width:10px;height:10px;background:#555;border-radius:2px;"></div><div class="hn" style="left:1121px;top:775.7px">Лучшие руки</div><div class="hp" style="right:606px;top:775.7px">36.4%</div><div class="bar" style="left:1303.5px;top:778.7px;width:194.5px"><i style="left:0.0px;width:15.9px;background:#a32a2a"></i><i style="left:15.6px;width:43.5px;background:#cb3333"></i><i style="left:58.7px;width:62.2px;background:#b98686"></i><i style="left:120.6px;width:74.2px;background:#5ab865"></i></div><div class="hn" style="left:1121px;top:796.7px">Слабые руки</div><div class="hp" style="right:606px;top:796.7px">5.2%</div><div class="bar" style="left:1303.5px;top:799.7px;width:194.5px"><i style="left:0.0px;width:3.0px;background:#a32a2a"></i><i style="left:2.7px;width:22.1px;background:#cb3333"></i><i style="left:24.5px;width:26.4px;background:#b98686"></i><i style="left:50.6px;width:144.2px;background:#5ab865"></i></div><div class="hn" style="left:1121px;top:817.7px">Мусорные руки</div><div class="hp" style="right:606px;top:817.7px">58.4%</div><div class="bar" style="left:1303.5px;top:820.7px;width:194.5px"><i style="left:0.0px;width:10.0px;background:#a32a2a"></i><i style="left:9.7px;width:24.4px;background:#cb3333"></i><i style="left:33.8px;width:29.1px;background:#b98686"></i><i style="left:62.6px;width:44.3px;background:#5ab865"></i><i style="left:106.6px;width:88.2px;background:#3e7cba"></i></div><div class="hh" style="left:1512px;top:549px">Дро</div><div class="a" style="left:1874px;top:552px;width:10px;height:10px;background:#555;border-radius:2px;"></div><div class="hn" style="left:1512px;top:571px">Комбо-дро</div><div class="hp" style="right:215px;top:571px"><span class="o">1</span>.3%</div><div class="bar" style="left:1693.8px;top:574px;width:195.2px"><i style="left:0.0px;width:5.0px;background:#a32a2a"></i><i style="left:4.7px;width:55.7px;background:#cb3333"></i><i style="left:60.1px;width:67.3px;background:#b98686"></i><i style="left:127.1px;width:68.4px;background:#5ab865"></i></div><div class="hn" style="left:1512px;top:592px">Натс-флаш дро</div><div class="hp" style="right:215px;top:592px">4.4%</div><div class="bar" style="left:1693.8px;top:595px;width:195.2px"><i style="left:0.0px;width:10.3px;background:#a32a2a"></i><i style="left:10.0px;width:49.3px;background:#cb3333"></i><i style="left:59.0px;width:60.4px;background:#b98686"></i><i style="left:119.1px;width:76.4px;background:#5ab865"></i></div><div class="hn" style="left:1512px;top:613px">Флаш-дро</div><div class="hp" style="right:215px;top:613px"><span class="o">1</span>.8%</div><div class="bar" style="left:1693.8px;top:616px;width:195.2px"><i style="left:0.0px;width:12.2px;background:#a32a2a"></i><i style="left:11.9px;width:43.4px;background:#cb3333"></i><i style="left:55.0px;width:60.0px;background:#b98686"></i><i style="left:114.8px;width:79.4px;background:#5ab865"></i><i style="left:193.8px;width:1.7px;background:#3e7cba"></i></div><div class="hn" style="left:1512px;top:634px">ОЕСД</div><div class="hp" style="right:215px;top:634px">0.4%</div><div class="bar" style="left:1693.8px;top:637px;width:195.2px"><i style="left:0.0px;width:3.4px;background:#a32a2a"></i><i style="left:3.1px;width:27.2px;background:#cb3333"></i><i style="left:30.1px;width:58.5px;background:#b98686"></i><i style="left:88.2px;width:106.1px;background:#5ab865"></i><i style="left:194.0px;width:1.5px;background:#3e7cba"></i></div><div class="hn" style="left:1512px;top:655px">Гатшот</div><div class="hp" style="right:215px;top:655px">3.3%</div><div class="bar" style="left:1693.8px;top:658px;width:195.2px"><i style="left:0.0px;width:16.3px;background:#cb3333"></i><i style="left:16.0px;width:41.3px;background:#b98686"></i><i style="left:57.0px;width:135.4px;background:#5ab865"></i><i style="left:192.1px;width:3.4px;background:#3e7cba"></i></div><div class="hn" style="left:1512px;top:676px">Без дро</div><div class="hp" style="right:215px;top:676px">88.8%</div><div class="bar" style="left:1693.8px;top:679px;width:195.2px"><i style="left:0.0px;width:13.2px;background:#a32a2a"></i><i style="left:12.9px;width:30.4px;background:#cb3333"></i><i style="left:42.9px;width:38.4px;background:#b98686"></i><i style="left:81.0px;width:56.1px;background:#5ab865"></i><i style="left:136.8px;width:58.7px;background:#3e7cba"></i></div><div class="hh" style="left:1512px;top:712px">EQ категории - Подробно</div><div class="a" style="left:1874px;top:715px;width:10px;height:10px;background:#555;border-radius:2px;"></div><div class="hn" style="left:1512px;top:734px">Руки 90-100</div><div class="hp" style="right:215px;top:734px"><span class="o">1</span>7.4%</div><div class="bar" style="left:1693.8px;top:737px;width:195.2px"><i style="left:0.0px;width:9.3px;background:#a32a2a"></i><i style="left:9.0px;width:39.3px;background:#cb3333"></i><i style="left:48.0px;width:70.4px;background:#b98686"></i><i style="left:118.1px;width:77.4px;background:#5ab865"></i></div><div class="hn" style="left:1512px;top:755px">Руки 80-90</div><div class="hp" style="right:215px;top:755px"><span class="o">1</span>8.9%</div><div class="bar" style="left:1693.8px;top:758px;width:195.2px"><i style="left:0.0px;width:23.3px;background:#a32a2a"></i><i style="left:23.0px;width:46.4px;background:#cb3333"></i><i style="left:69.1px;width:54.4px;background:#b98686"></i><i style="left:123.2px;width:72.3px;background:#5ab865"></i></div><div class="hn" style="left:1512px;top:776px">Эквити 25-50</div><div class="hp" style="right:215px;top:776px"><span class="o">1</span>0.5%</div><div class="bar" style="left:1693.8px;top:779px;width:195.2px"><i style="left:0.0px;width:7.3px;background:#a32a2a"></i><i style="left:7.0px;width:35.4px;background:#cb3333"></i><i style="left:42.2px;width:44.0px;background:#b98686"></i><i style="left:85.9px;width:109.6px;background:#5ab865"></i></div><div class="hn" style="left:1512px;top:797px">Эквити 0-25</div><div class="hp" style="right:215px;top:797px">53.<span class="o">1</span>%</div><div class="bar" style="left:1693.8px;top:800px;width:195.2px"><i style="left:0.0px;width:10.5px;background:#a32a2a"></i><i style="left:10.2px;width:22.2px;background:#cb3333"></i><i style="left:32.0px;width:25.3px;background:#b98686"></i><i style="left:57.0px;width:42.3px;background:#5ab865"></i><i style="left:99.0px;width:96.5px;background:#3e7cba"></i></div></div></body></html>
